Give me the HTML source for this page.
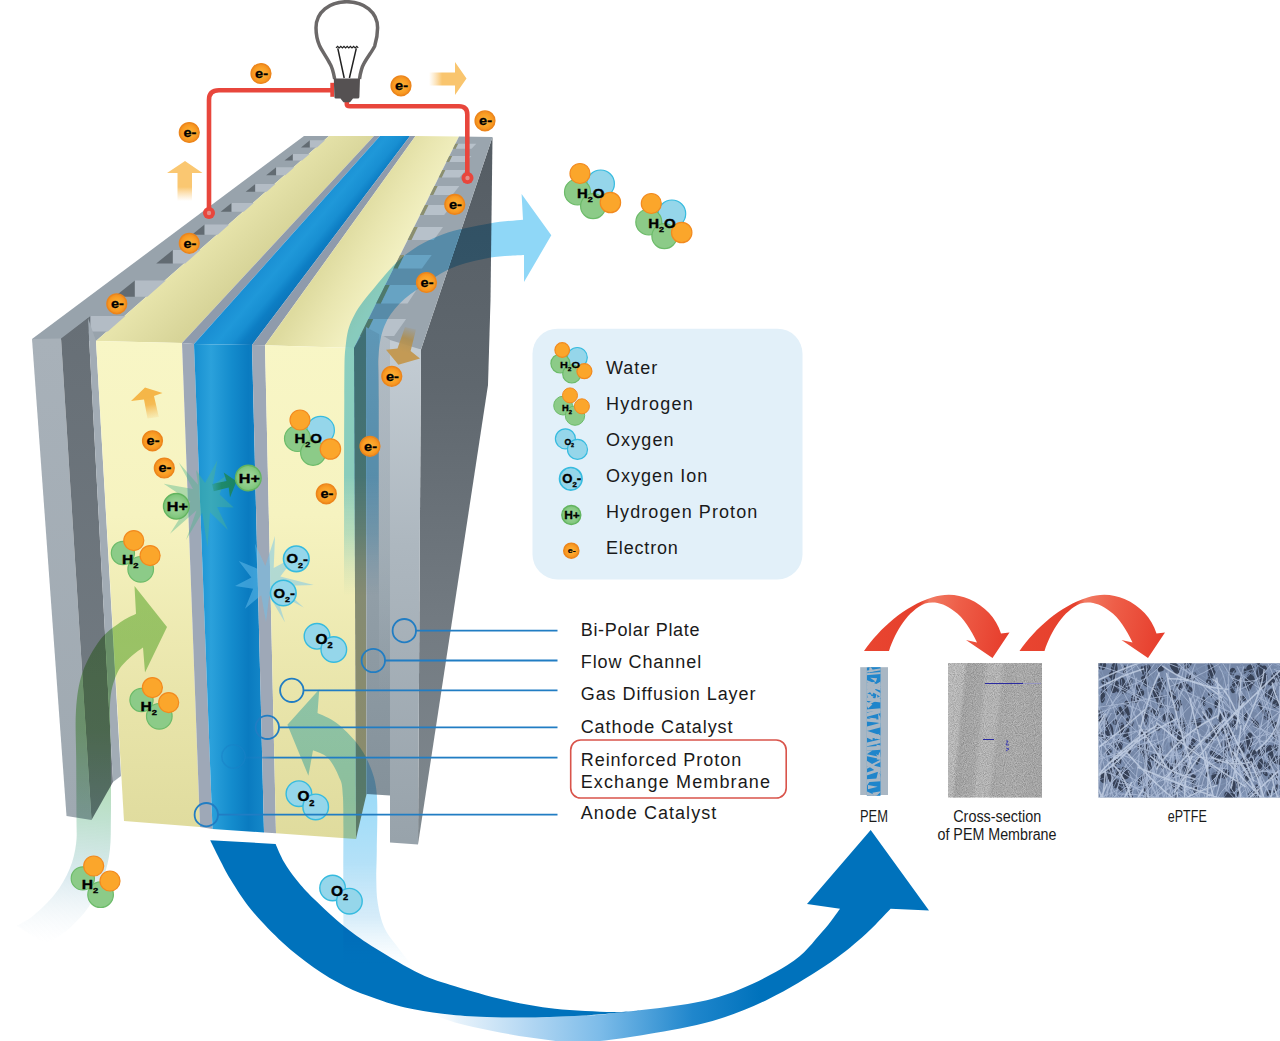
<!DOCTYPE html>
<html><head><meta charset="utf-8"><title>PEM fuel cell</title>
<style>
html,body{margin:0;padding:0;background:#fff;}
body{width:1280px;height:1041px;overflow:hidden;}
svg{display:block;font-family:"Liberation Sans",sans-serif;}
</style></head><body>
<svg width="1280" height="1041" viewBox="0 0 1280 1041">
<defs>
<linearGradient id="gYellowF" gradientUnits="userSpaceOnUse" x1="0" y1="340" x2="0" y2="840"><stop offset="0" stop-color="#f8f6c6"/><stop offset="0.35" stop-color="#f6f3c0"/><stop offset="0.7" stop-color="#e9e5ab"/><stop offset="1" stop-color="#dfdb9d"/></linearGradient>
<linearGradient id="gBlueF" gradientUnits="userSpaceOnUse" x1="194" y1="0" x2="262" y2="0"><stop offset="0" stop-color="#1790d1"/><stop offset="0.25" stop-color="#2ba1db"/><stop offset="0.55" stop-color="#148ccd"/><stop offset="0.8" stop-color="#0a7bc0"/><stop offset="1" stop-color="#1386c8"/></linearGradient>
<linearGradient id="gBlueT" gradientUnits="userSpaceOnUse" x1="251.2" y1="280" x2="280.9" y2="304.5"><stop offset="0" stop-color="#1a8fd3"/><stop offset="0.35" stop-color="#1f98d9"/><stop offset="0.65" stop-color="#188fd2"/><stop offset="0.85" stop-color="#0d7ec4"/><stop offset="1" stop-color="#0c78bd"/></linearGradient>
<linearGradient id="gLPf" gradientUnits="userSpaceOnUse" x1="0" y1="340" x2="0" y2="820"><stop offset="0" stop-color="#a8b1b9"/><stop offset="1" stop-color="#9fa9b1"/></linearGradient>
<linearGradient id="gLPd" gradientUnits="userSpaceOnUse" x1="0" y1="320" x2="0" y2="820"><stop offset="0" stop-color="#676f76"/><stop offset="1" stop-color="#747d84"/></linearGradient>
<linearGradient id="gSide" gradientUnits="userSpaceOnUse" x1="0" y1="140" x2="0" y2="840"><stop offset="0" stop-color="#555d64"/><stop offset="0.35" stop-color="#5f676e"/><stop offset="0.7" stop-color="#737b82"/><stop offset="1" stop-color="#80898f"/></linearGradient>
<linearGradient id="gYTopL" gradientUnits="userSpaceOnUse" x1="165" y1="280" x2="201.9" y2="318"><stop offset="0" stop-color="#e7e4ab"/><stop offset="0.5" stop-color="#dfdca2"/><stop offset="1" stop-color="#d7d498"/></linearGradient>
<linearGradient id="gYTopR" gradientUnits="userSpaceOnUse" x1="312.2" y1="280" x2="367.4" y2="313.5"><stop offset="0" stop-color="#dedb9f"/><stop offset="0.45" stop-color="#e9e6b0"/><stop offset="1" stop-color="#f3f1c3"/></linearGradient>
<linearGradient id="gRPf" gradientUnits="userSpaceOnUse" x1="0" y1="350" x2="0" y2="840"><stop offset="0" stop-color="#c3ccd3"/><stop offset="0.4" stop-color="#adb7bf"/><stop offset="1" stop-color="#98a3ab"/></linearGradient>
<linearGradient id="gRCh" gradientUnits="userSpaceOnUse" x1="0" y1="330" x2="0" y2="800"><stop offset="0" stop-color="#a9b3bc"/><stop offset="0.5" stop-color="#93a0a9"/><stop offset="1" stop-color="#84919a"/></linearGradient>
<linearGradient id="gOlive" gradientUnits="userSpaceOnUse" x1="0" y1="330" x2="0" y2="840"><stop offset="0" stop-color="#6f8379"/><stop offset="0.45" stop-color="#848b73"/><stop offset="1" stop-color="#8d8c6a"/></linearGradient>
<linearGradient id="gOv" gradientUnits="userSpaceOnUse" x1="0" y1="333" x2="0" y2="700"><stop offset="0" stop-color="#b9c3cb" stop-opacity="0.6"/><stop offset="0.6" stop-color="#b4bec6" stop-opacity="0.4"/><stop offset="1" stop-color="#b4bec6" stop-opacity="0"/></linearGradient>
<linearGradient id="gH2O" gradientUnits="userSpaceOnUse" x1="0" y1="190" x2="0" y2="610"><stop offset="0" stop-color="#8fd7f7" stop-opacity="1"/><stop offset="0.68" stop-color="#8fd7f7" stop-opacity="1"/><stop offset="0.82" stop-color="#97daf7" stop-opacity="0.6"/><stop offset="0.965" stop-color="#b5e4f8" stop-opacity="0"/><stop offset="1" stop-color="#b5e4f8" stop-opacity="0"/></linearGradient>
<linearGradient id="gO2in" gradientUnits="userSpaceOnUse" x1="0" y1="690" x2="0" y2="968"><stop offset="0" stop-color="#9bd9f8" stop-opacity="1"/><stop offset="0.4" stop-color="#9fdcf8" stop-opacity="1"/><stop offset="0.62" stop-color="#b4e1f8" stop-opacity="1"/><stop offset="0.82" stop-color="#cfe9f8" stop-opacity="0.85"/><stop offset="1" stop-color="#e6f5fd" stop-opacity="0"/></linearGradient>
<linearGradient id="gH2in" gradientUnits="userSpaceOnUse" x1="60" y1="600" x2="40" y2="960"><stop offset="0" stop-color="#a4d48f" stop-opacity="1"/><stop offset="0.35" stop-color="#a9d79a" stop-opacity="1"/><stop offset="0.6" stop-color="#bfe1cf" stop-opacity="1"/><stop offset="0.76" stop-color="#d3e6ec" stop-opacity="0.85"/><stop offset="0.95" stop-color="#eef4f9" stop-opacity="0"/><stop offset="1" stop-color="#eef4f9" stop-opacity="0"/></linearGradient>
<linearGradient id="gRib" gradientUnits="userSpaceOnUse" x1="425" y1="0" x2="760" y2="0"><stop offset="0" stop-color="#ffffff" stop-opacity="0"/><stop offset="0.1" stop-color="#e3f0fa" stop-opacity="0.9"/><stop offset="0.3" stop-color="#b5d8f3" stop-opacity="1"/><stop offset="0.52" stop-color="#7dbce9" stop-opacity="1"/><stop offset="0.8" stop-color="#1f86cc" stop-opacity="1"/><stop offset="1" stop-color="#0072bc" stop-opacity="1"/></linearGradient>
<linearGradient id="gOrR" gradientUnits="userSpaceOnUse" x1="429" y1="0" x2="442" y2="0"><stop offset="0" stop-color="#fbd28d" stop-opacity="0"/><stop offset="1" stop-color="#f9c56e" stop-opacity="1"/></linearGradient>
<linearGradient id="gOrU" gradientUnits="userSpaceOnUse" x1="0" y1="201" x2="0" y2="187"><stop offset="0" stop-color="#fbd28d" stop-opacity="0"/><stop offset="1" stop-color="#fac771" stop-opacity="1"/></linearGradient>
<linearGradient id="gOrG" gradientUnits="userSpaceOnUse" x1="153" y1="421" x2="148" y2="398"><stop offset="0" stop-color="#f6c56e" stop-opacity="0"/><stop offset="0.7" stop-color="#f5b94f" stop-opacity="0.95"/><stop offset="1" stop-color="#f5b648" stop-opacity="1"/></linearGradient>
<linearGradient id="gBrn" gradientUnits="userSpaceOnUse" x1="412" y1="326" x2="404" y2="352"><stop offset="0" stop-color="#a98b50" stop-opacity="0"/><stop offset="0.5" stop-color="#b08d4a" stop-opacity="0.85"/><stop offset="1" stop-color="#c39a55" stop-opacity="1"/></linearGradient>
<linearGradient id="gHp" gradientUnits="userSpaceOnUse" x1="211" y1="0" x2="232" y2="0"><stop offset="0" stop-color="#1f8a6a" stop-opacity="0.2"/><stop offset="0.5" stop-color="#1f8a6a" stop-opacity="1"/><stop offset="1" stop-color="#1a8566" stop-opacity="1"/></linearGradient>
<radialGradient id="gHpr" cx="0.5" cy="0.5" r="0.5"><stop offset="0" stop-color="#a3daa0"/><stop offset="0.65" stop-color="#8ccc88"/><stop offset="1" stop-color="#79c376"/></radialGradient>
<radialGradient id="gE" cx="0.5" cy="0.5" r="0.5"><stop offset="0" stop-color="#fdb43e"/><stop offset="0.65" stop-color="#fa9f25"/><stop offset="1" stop-color="#f28d1d"/></radialGradient>
<linearGradient id="gPemLine" gradientUnits="userSpaceOnUse" x1="245" y1="0" x2="275" y2="0"><stop offset="0" stop-color="#217dc3" stop-opacity="0.15"/><stop offset="1" stop-color="#217dc3" stop-opacity="1"/></linearGradient>
<linearGradient id="gRed1" gradientUnits="userSpaceOnUse" x1="864" y1="610" x2="1009" y2="640"><stop offset="0" stop-color="#ea4631"/><stop offset="0.36" stop-color="#e5402d"/><stop offset="0.42" stop-color="#f17a62"/><stop offset="0.62" stop-color="#ee5e48"/><stop offset="1" stop-color="#e63c2b"/></linearGradient>
<linearGradient id="gRed2" gradientUnits="userSpaceOnUse" x1="1019.5" y1="610" x2="1164.5" y2="640"><stop offset="0" stop-color="#ea4631"/><stop offset="0.36" stop-color="#e5402d"/><stop offset="0.42" stop-color="#f17a62"/><stop offset="0.62" stop-color="#ee5e48"/><stop offset="1" stop-color="#e63c2b"/></linearGradient>
<clipPath id="cpPem"><rect x="866.9" y="667.2" width="13.6" height="128.6"/></clipPath>
<linearGradient id="gXs" gradientUnits="userSpaceOnUse" x1="950" y1="663" x2="1040" y2="672"><stop offset="0" stop-color="#bfbfbf"/><stop offset="0.16" stop-color="#bcbcbc"/><stop offset="0.2" stop-color="#a6a6a6"/><stop offset="0.38" stop-color="#ababab"/><stop offset="0.43" stop-color="#b8b8b8"/><stop offset="0.56" stop-color="#b9b9b9"/><stop offset="0.61" stop-color="#ababab"/><stop offset="0.8" stop-color="#adadad"/><stop offset="1" stop-color="#a9a9a9"/></linearGradient>
<filter id="fNoise" x="0" y="0" width="100%" height="100%" color-interpolation-filters="sRGB"><feTurbulence type="fractalNoise" baseFrequency="1.1" numOctaves="1" seed="3" result="n"/><feColorMatrix type="matrix" values="0 0 0 0 0  0 0 0 0 0  0 0 0 0 0  1.6 0 0 0 -0.55"/></filter>
<filter id="fNoiseW" x="0" y="0" width="100%" height="100%" color-interpolation-filters="sRGB"><feTurbulence type="fractalNoise" baseFrequency="1.1" numOctaves="1" seed="11" result="n"/><feColorMatrix type="matrix" values="0 0 0 0 1  0 0 0 0 1  0 0 0 0 1  1.6 0 0 0 -0.55"/></filter>
<clipPath id="cpE"><rect x="1098.5" y="663.3" width="182" height="134.2"/></clipPath>
<filter id="fBlur" x="-5%" y="-5%" width="110%" height="110%"><feGaussianBlur stdDeviation="0.45"/></filter>
</defs>
<rect width="1280" height="1041" fill="#ffffff"/>
<g style="isolation:isolate">
<rect width="1280" height="1041" fill="#ffffff"/>
<!-- ribbon -->
<path d="M425.0,1011.0 C427.9,1011.5 433.3,1012.8 442.5,1013.7 C451.7,1014.7 465.4,1016.1 480.0,1016.7 C494.6,1017.3 513.3,1017.7 530.0,1017.5 C546.7,1017.3 566.2,1016.4 580.0,1015.7 C593.8,1015.0 590.4,1016.0 612.5,1013.2 C634.6,1010.4 683.3,1006.7 712.5,998.7 C741.7,990.7 769.2,976.1 787.5,965.0 C805.8,953.9 813.2,941.4 822.0,932.0 C830.8,922.6 837.0,912.6 840.0,908.7 L807.0,904.0 L870.7,830.0 L929.0,910.6 L890.6,908.7 C885.9,913.4 873.4,927.5 862.5,937.0 C851.6,946.5 840.6,955.7 825.0,966.0 C809.4,976.3 787.5,989.8 768.7,999.0 C750.0,1008.2 732.5,1015.2 712.5,1021.0 C692.5,1026.8 667.5,1030.7 648.7,1034.0 C630.0,1037.3 613.5,1039.7 600.0,1041.0 C586.5,1042.3 579.2,1042.6 567.5,1042.0 C555.8,1041.4 542.5,1039.3 530.0,1037.5 C517.5,1035.7 505.0,1033.5 492.5,1031.0 C480.0,1028.5 466.2,1025.8 455.0,1022.5 C443.8,1019.2 430.0,1012.9 425.0,1011.0 Z" fill="url(#gRib)" />
<path d="M210.2,840.2 C212.0,843.8 217.6,855.4 221.0,862.0 C224.4,868.6 225.9,872.0 230.9,880.0 C235.9,888.0 242.6,899.3 251.2,909.7 C259.8,920.1 272.1,932.9 282.5,942.5 C292.9,952.1 303.3,960.2 313.7,967.5 C324.1,974.8 334.6,981.0 345.0,986.2 C355.4,991.4 366.2,995.2 376.2,998.7 C386.2,1002.2 393.9,1005.0 405.0,1007.5 C416.1,1010.0 430.0,1012.2 442.5,1013.7 C455.0,1015.2 465.4,1016.1 480.0,1016.7 C494.6,1017.3 513.3,1017.7 530.0,1017.5 C546.7,1017.3 566.2,1016.4 580.0,1015.7 C593.8,1015.0 602.5,1014.0 612.5,1013.2 C622.5,1012.4 635.4,1011.2 640.0,1010.8 C635.4,1011.0 626.7,1012.4 612.5,1012.0 C598.3,1011.6 572.9,1010.7 555.0,1008.7 C537.1,1006.7 521.7,1003.8 505.0,1000.0 C488.3,996.2 469.2,990.6 455.0,986.2 C440.8,981.8 433.1,980.0 420.0,973.7 C406.9,967.5 388.7,956.5 376.2,948.7 C363.7,940.9 355.4,935.2 345.0,926.9 C334.6,918.6 321.8,906.5 313.7,898.7 C305.6,890.9 301.6,886.1 296.6,880.0 C291.7,873.9 287.5,868.0 284.0,862.0 C280.5,856.0 277.0,847.0 275.6,844.0 Z" fill="#0072bc" />
<!-- cell -->
<polygon points="421.0,349.5 492.5,137.0 490.5,300.0 488.0,385.0 418.0,844.5" fill="url(#gSide)" />
<polygon points="32.0,339.0 304.0,136.0 329.0,136.0 96.0,341.0" fill="#98a3ac" />
<polygon points="96.0,341.0 329.0,136.0 374.0,136.0 182.0,343.0" fill="url(#gYTopL)" />
<polygon points="182.0,343.0 374.0,136.0 380.0,136.0 194.0,344.0" fill="#8f9bac" />
<polygon points="194.0,344.0 380.0,136.0 410.0,136.0 252.0,345.0" fill="url(#gBlueT)" />
<polygon points="252.0,345.0 410.0,136.0 415.5,136.0 265.0,345.3" fill="#8f9bac" />
<polygon points="265.0,345.3 415.5,136.0 459.0,136.5 354.0,348.0" fill="url(#gYTopR)" />
<polygon points="354.0,348.0 459.0,136.5 492.5,137.0 421.0,349.5" fill="#9aa5ae" />
<polygon points="301.0,147.4 309.9,140.3 309.9,147.4" fill="#626b72" />
<polygon points="309.9,140.3 325.1,140.3 317.0,147.4 309.9,147.4" fill="#b3bcc5" />
<polygon points="284.5,160.6 292.9,153.9 292.9,160.6" fill="#626b72" />
<polygon points="292.9,153.9 309.7,153.9 302.0,160.6 292.9,160.6" fill="#b3bcc5" />
<polygon points="266.2,175.3 276.2,167.3 276.2,175.3" fill="#626b72" />
<polygon points="276.2,167.3 294.4,167.3 285.3,175.3 276.2,175.3" fill="#b3bcc5" />
<polygon points="245.7,191.7 255.3,184.0 255.3,191.7" fill="#626b72" />
<polygon points="255.3,184.0 275.4,184.0 266.7,191.7 255.3,191.7" fill="#b3bcc5" />
<polygon points="220.6,211.8 231.6,203.0 231.6,211.8" fill="#626b72" />
<polygon points="231.6,203.0 253.8,203.0 243.8,211.8 231.6,211.8" fill="#b3bcc5" />
<polygon points="191.9,234.8 204.6,224.6 204.6,234.8" fill="#626b72" />
<polygon points="204.6,224.6 229.3,224.6 217.7,234.8 204.6,234.8" fill="#b3bcc5" />
<polygon points="156.2,263.4 172.9,250.0 172.9,263.4" fill="#626b72" />
<polygon points="172.9,250.0 200.4,250.0 185.2,263.4 172.9,263.4" fill="#b3bcc5" />
<polygon points="114.6,296.7 134.9,280.5 134.9,296.7" fill="#626b72" />
<polygon points="134.9,280.5 165.8,280.5 147.4,296.7 134.9,296.7" fill="#b3bcc5" />
<polygon points="71.2,331.5 90.5,316.0 90.5,331.5" fill="#626b72" />
<polygon points="90.5,316.0 125.4,316.0 107.8,331.5 90.5,331.5" fill="#b3bcc5" />
<polygon points="455.4,143.7 458.2,143.7 455.8,148.7 452.9,148.7" fill="#8b8f6e" />
<polygon points="458.2,143.7 476.3,143.7 471.5,148.7 455.8,148.7" fill="#b7c1ca" />
<polygon points="449.3,156.0 452.3,156.0 449.4,162.0 446.3,162.0" fill="#8b8f6e" />
<polygon points="452.3,156.0 471.4,156.0 466.0,162.0 449.4,162.0" fill="#b7c1ca" />
<polygon points="442.4,170.0 445.5,170.0 441.9,177.4 438.7,177.4" fill="#8b8f6e" />
<polygon points="445.5,170.0 465.8,170.0 459.6,177.4 441.9,177.4" fill="#b7c1ca" />
<polygon points="434.4,186.0 437.8,186.0 433.4,195.0 430.0,195.0" fill="#8b8f6e" />
<polygon points="437.8,186.0 459.4,186.0 452.3,195.0 433.4,195.0" fill="#b7c1ca" />
<polygon points="425.0,205.0 428.6,205.0 423.7,215.0 420.0,215.0" fill="#8b8f6e" />
<polygon points="428.6,205.0 451.8,205.0 444.1,215.0 423.7,215.0" fill="#b7c1ca" />
<polygon points="414.1,227.0 417.9,227.0 411.6,240.0 407.6,240.0" fill="#8b8f6e" />
<polygon points="417.9,227.0 443.0,227.0 433.7,240.0 411.6,240.0" fill="#b7c1ca" />
<polygon points="400.2,255.0 404.4,255.0 397.8,268.6 393.4,268.6" fill="#8b8f6e" />
<polygon points="404.4,255.0 431.7,255.0 421.9,268.6 397.8,268.6" fill="#b7c1ca" />
<polygon points="385.3,285.0 389.9,285.0 380.9,303.5 376.1,303.5" fill="#8b8f6e" />
<polygon points="389.9,285.0 419.7,285.0 407.5,303.5 380.9,303.5" fill="#b7c1ca" />
<polygon points="368.4,319.0 373.4,319.0 365.2,336.0 360.0,336.0" fill="#8b8f6e" />
<polygon points="373.4,319.0 406.1,319.0 394.1,336.0 365.2,336.0" fill="#b7c1ca" />
<polygon points="32.0,339.0 61.0,338.5 91.5,820.0 66.5,816.0" fill="url(#gLPf)" />
<polygon points="61.0,338.5 88.0,318.0 113.0,782.0 91.5,820.0" fill="url(#gLPd)" />
<polygon points="88.0,318.0 96.0,341.0 121.0,776.0 113.0,782.0" fill="#a2acb5" />
<polygon points="96.0,341.0 182.0,343.0 200.0,827.0 124.0,821.0" fill="url(#gYellowF)" />
<polygon points="182.0,343.0 194.0,344.0 212.5,829.0 200.0,827.0" fill="#9ea8b7" />
<polygon points="194.0,344.0 252.0,345.0 264.0,832.5 212.5,829.0" fill="url(#gBlueF)" />
<polygon points="252.0,345.0 265.0,345.3 276.0,833.3 264.0,832.5" fill="#9ea8b7" />
<polygon points="265.0,345.3 354.0,348.0 356.0,839.0 276.0,833.3" fill="url(#gYellowF)" />
<polygon points="354.0,348.0 366.0,327.0 366.5,794.0 356.0,839.0" fill="url(#gOlive)" />
<polygon points="366.0,327.0 390.0,340.0 390.0,795.5 366.5,794.0" fill="url(#gRCh)" />
<polygon points="390.0,340.0 421.0,349.5 418.0,844.5 390.0,842.5" fill="url(#gRPf)" />
<polygon points="379.0,333.0 390.0,340.0 390.0,795.5 379.0,795.0" fill="url(#gOv)" />
<!-- arrows -->
<path d="M344.0,612.0 C344.1,576.7 344.0,444.8 344.3,400.0 C344.6,355.2 344.3,357.2 346.0,343.0 C347.7,328.8 349.6,324.3 354.4,315.0 C359.2,305.7 366.6,297.0 375.0,287.0 C383.4,277.0 393.8,263.8 405.0,255.0 C416.2,246.2 428.4,239.7 442.5,234.4 C456.6,229.2 476.0,225.9 489.4,223.5 C502.8,221.1 517.4,220.3 523.0,219.7 L521.6,194.0 L551.3,235.3 L524.0,282.0 L524.0,255.0 C518.2,255.5 501.4,255.6 489.4,257.8 C477.4,260.0 462.8,263.5 451.9,268.0 C440.9,272.5 432.4,279.1 423.7,285.0 C414.9,290.9 405.9,296.9 399.4,303.7 C392.8,310.5 387.9,317.3 384.4,326.0 C380.9,334.7 379.4,343.7 378.5,356.0 C377.6,368.3 378.7,357.3 378.7,400.0 C378.7,442.7 378.7,576.7 378.7,612.0 Z" fill="url(#gH2O)" style="mix-blend-mode:multiply"/>
<path d="M317.5,713 L319.3,689.2 L287.4,724.7 L308.4,775.8 L313.0,750.3 C315.4,751.5 323.2,753.4 327.5,757.6 C331.8,761.9 335.9,769.1 338.5,775.8 C341.1,782.5 342.2,780.3 343.0,797.7 C343.8,815.1 343.2,851.6 343.3,880.0 C343.4,908.4 343.5,953.3 343.5,968.0 L414,968 C411.1,964.3 401.5,952.5 396.5,945.6 C391.5,938.8 387.1,933.9 384.0,926.9 C380.9,919.9 379.1,911.2 377.8,903.4 C376.5,895.6 376.5,888.9 376.3,880.0 C376.1,871.1 376.7,864.3 376.8,850.0 C376.9,835.7 378.0,808.2 376.8,794.0 C375.6,779.8 372.9,773.5 369.5,765.0 C366.1,756.5 362.2,750.0 356.7,743.0 C351.2,736.0 343.1,728.0 336.6,723.0 C330.1,718.0 320.7,714.7 317.5,713.0 Z" fill="url(#gO2in)" style="mix-blend-mode:multiply"/>
<path d="M16.9,925.8 C19.7,924.0 27.5,920.5 33.8,915.2 C40.1,909.9 48.9,901.9 54.9,894.1 C60.9,886.4 66.2,877.2 69.7,868.7 C73.2,860.2 75.0,852.0 76.1,843.4 C77.2,834.8 76.5,830.9 76.5,817.0 C76.5,803.1 76.3,777.8 76.2,760.0 C76.1,742.2 75.0,724.6 76.0,710.0 C77.0,695.4 78.5,684.2 82.5,672.5 C86.5,660.8 93.8,648.3 100.0,640.0 C106.2,631.7 114.0,626.9 120.0,622.5 C126.0,618.1 133.3,615.2 136.0,613.7 L134.5,586.0 L167.0,627.0 L145.0,672.5 L143.0,647.5 C140.8,649.2 134.2,653.3 130.0,657.5 C125.8,661.7 120.8,665.4 117.5,672.5 C114.2,679.6 111.4,687.1 110.3,700.0 C109.2,712.9 110.6,735.0 110.7,750.0 C110.8,765.0 111.0,778.7 111.0,790.0 C111.0,801.3 111.1,808.0 110.9,818.0 C110.7,828.0 111.1,839.8 109.9,849.7 C108.7,859.6 107.0,867.7 103.5,877.2 C100.0,886.7 94.3,898.3 88.7,906.8 C83.1,915.2 76.7,921.6 69.7,927.9 C62.7,934.2 50.4,942.0 46.5,944.8 Z" fill="url(#gH2in)" style="mix-blend-mode:multiply"/>
</g>
<!-- starbursts -->
<polygon points="163.7,483.7 192.9,489.1 178.7,462.5 198.1,484.7 196.0,470.0 205.1,483.0 217.5,460.0 212.7,485.1 226.0,476.0 219.6,494.4 233.7,507.5 217.1,506.9 228.0,530.0 210.0,512.2 207.5,547.5 202.2,512.7 186.0,540.0 196.5,510.4 170.0,533.7 190.4,501.4" fill="#4fb58c" opacity="0.42"/>
<polygon points="238.7,561.0 257.4,568.7 255.0,543.7 265.3,566.0 275.0,536.0 273.7,568.1 296.0,556.0 280.3,576.5 313.7,585.0 280.1,586.1 303.7,607.5 275.6,592.5 285.0,622.5 269.2,595.7 266.0,622.0 261.2,595.2 245.0,608.7 253.1,588.7 235.0,586.0 251.4,577.5" fill="#6cc3ee" opacity="0.48"/>
<path d="M212,484 L226.5,481 L223.7,472.5 L236.5,481.3 L230,497.5 L228.7,487.5 L213.7,491.3 Z" fill="url(#gHp)" />
<!-- small arrows -->
<path d="M428,72.5 L455,72.5 L455,62 L466.5,78.5 L455,95 L455,85.5 L428,85.5 Z" fill="url(#gOrR)" />
<path d="M177.5,201 L177.5,173 L167,173 L185,161 L202.5,173 L192,173 L192,201 Z" fill="url(#gOrU)" />
<path d="M147.5,418.5 L144,399.5 L131,401 L145,387.5 L162.5,393 L154,396 L158.8,417 Z" fill="url(#gOrG)" />
<path d="M405,327 L416,329.5 L410.6,351 L420,358.5 L398.4,364.7 L386,349.7 L397.5,348.5 Z" fill="url(#gBrn)" />
<!-- wires -->
<path d="M209,208 L209,100 Q209,90.3 219,90.3 L331,90.3" fill="none" stroke="#e8463c" stroke-width="4.6" stroke-linecap="butt"/>
<rect x="330.3" y="82.8" width="3.8" height="14" fill="#e8463c"/>
<path d="M346.8,100 L346.8,104 Q346.8,106.3 350,106.3 L459,106.3 Q467.3,106.3 467.3,114.5 L467.3,173" fill="none" stroke="#e8463c" stroke-width="4.6"/>
<circle cx="209" cy="213" r="6" fill="#e8463c"/><circle cx="209" cy="213" r="2.2" fill="#e48f89"/>
<circle cx="467.5" cy="178" r="6" fill="#e8463c"/><circle cx="467.5" cy="178" r="2.2" fill="#e48f89"/>
<path d="M334.7,79 C333,70 331.5,66 329.8,63.4 C326,56 322,51 319.7,46.1 C317,40 316,34 316,27.7 C316,12 329.5,1.7 346.8,1.7 C364,1.7 377.6,12 377.6,27.7 C377.6,34 376.5,40 374.7,46.1 C372.5,51 368,56 364,63.4 C362.5,66 360.8,70 359.5,79" fill="#ffffff" stroke="#6b6868" stroke-width="3.5"/>
<path d="M336,47.9 l1.6,-1.5 l1.6,1.5 l1.6,-1.5 l1.6,1.5 l1.6,-1.5 l1.6,1.5 l1.6,-1.5 l1.6,1.5 l1.6,-1.5 l1.6,1.5 l1.6,-1.5 l1.6,1.5 l1.6,-1.5 l1.4,1.5" fill="none" stroke="#222" stroke-width="1.2"/>
<path d="M337.8,48.4 L344.2,78 M356.3,48.4 L349.4,78" fill="none" stroke="#222" stroke-width="1.5"/>
<path d="M333.8,78.4 L360,78.4 L359.4,97 Q359.4,98.5 357.5,98.5 L353,98.5 L350,102.3 L343.4,102.3 L340.5,98.5 L336,98.5 Q334.4,98.5 334.4,97 Z" fill="#555152" />
<!-- legend / labels -->
<rect x="532.5" y="328.7" width="270" height="250.7" rx="25" ry="25" fill="#e2f0f9"/>
<circle cx="577.3" cy="357.5" r="10.0" fill="#95d6ea" stroke="#36bbdf" stroke-width="1.2"/>
<circle cx="560.4" cy="363.5" r="9.5" fill="#8ccb88" stroke="#6cbb69" stroke-width="1.2"/>
<circle cx="571.8" cy="373.9" r="9.1" fill="#8ccb88" stroke="#6cbb69" stroke-width="1.2"/>
<circle cx="562.2" cy="350.0" r="7.3" fill="#fba62b" stroke="#f28a1f" stroke-width="1.2"/>
<circle cx="584.4" cy="371.2" r="7.5" fill="#fba62b" stroke="#f28a1f" stroke-width="1.2"/>
<text transform="translate(560.0 368.0) scale(1.170 1)" font-size="9.3" font-weight="bold" fill="#000" stroke="#000" stroke-width="0.26">H<tspan font-size="5.6" dy="2.8">2</tspan><tspan font-size="9.3" dy="-2.8">O</tspan></text>
<circle cx="563.1" cy="405.6" r="9.4" fill="#8ccb88" stroke="#6cbb69" stroke-width="1"/>
<circle cx="575.0" cy="415.6" r="9.7" fill="#8ccb88" stroke="#6cbb69" stroke-width="1"/>
<circle cx="570.0" cy="395.4" r="7.5" fill="#fba62b" stroke="#f28a1f" stroke-width="1"/>
<circle cx="581.9" cy="406.3" r="7.5" fill="#fba62b" stroke="#f28a1f" stroke-width="1"/>
<text x="562" y="411.3" font-size="9.3" font-weight="bold" fill="#000" stroke="#000" stroke-width="0.35">H<tspan font-size="5.8" dy="2.6">2</tspan></text>
<circle cx="565.4" cy="438.8" r="10.0" fill="#95d6ea" stroke="#36bbdf" stroke-width="1.2"/>
<circle cx="577.5" cy="449.4" r="10.0" fill="#95d6ea" stroke="#36bbdf" stroke-width="1.2"/>
<text x="564.4" y="444.7" font-size="8.6" font-weight="bold" fill="#000" stroke="#000" stroke-width="0.35">O<tspan font-size="5.4" dy="2.4">2</tspan></text>
<circle cx="570.8" cy="478.8" r="11.3" fill="#95d6ea" stroke="#36bbdf" stroke-width="1.6"/>
<text transform="translate(562.2 482.8) scale(1.100 1)" font-size="11.9" font-weight="bold" fill="#000" stroke="#000" stroke-width="0.35">O<tspan font-size="7.1" dy="3.8">2</tspan><tspan font-size="11.9" dy="-3.6">-</tspan></text>
<circle cx="571.3" cy="515.0" r="9.5" fill="url(#gHpr)" stroke="#62b45f" stroke-width="1.4"/>
<text transform="translate(564.2 518.6) scale(1.200 1)" font-size="10.0" font-weight="bold" fill="#000" stroke="#000" stroke-width="0.26">H+</text>
<circle cx="571.3" cy="550.7" r="7.6" fill="url(#gE)" stroke="#ec851b" stroke-width="1.4"/>
<text transform="translate(567.7 553.3) scale(1.100 1)" font-size="8.1" font-weight="bold" fill="#000" stroke="#000" stroke-width="0.23">e-</text>
<text x="606.0" y="374.3" font-size="18.0" fill="#1a1a1a" textLength="51.3" lengthAdjust="spacing">Water</text>
<text x="606.0" y="410.3" font-size="18.0" fill="#1a1a1a" textLength="86.8" lengthAdjust="spacing">Hydrogen</text>
<text x="606.0" y="446.3" font-size="18.0" fill="#1a1a1a" textLength="67.5" lengthAdjust="spacing">Oxygen</text>
<text x="606.0" y="482.3" font-size="18.0" fill="#1a1a1a" textLength="101.3" lengthAdjust="spacing">Oxygen Ion</text>
<text x="606.0" y="518.3" font-size="18.0" fill="#1a1a1a" textLength="151.3" lengthAdjust="spacing">Hydrogen Proton</text>
<text x="606.0" y="554.3" font-size="18.0" fill="#1a1a1a" textLength="71.8" lengthAdjust="spacing">Electron</text>
<text x="580.7" y="636.3" font-size="18.0" fill="#1a1a1a" textLength="118.8" lengthAdjust="spacing">Bi-Polar Plate</text>
<text x="580.7" y="668.3" font-size="18.0" fill="#1a1a1a" textLength="120.5" lengthAdjust="spacing">Flow Channel</text>
<text x="580.7" y="700.0" font-size="18.0" fill="#1a1a1a" textLength="174.8" lengthAdjust="spacing">Gas Diffusion Layer</text>
<text x="580.7" y="733.0" font-size="18.0" fill="#1a1a1a" textLength="151.8" lengthAdjust="spacing">Cathode Catalyst</text>
<text x="580.7" y="766.3" font-size="18.0" fill="#1a1a1a" textLength="160.5" lengthAdjust="spacing">Reinforced Proton</text>
<text x="580.7" y="787.5" font-size="18.0" fill="#1a1a1a" textLength="189.3" lengthAdjust="spacing">Exchange Membrane</text>
<text x="580.7" y="819.3" font-size="18.0" fill="#1a1a1a" textLength="135.5" lengthAdjust="spacing">Anode Catalyst</text>
<rect x="570.7" y="740" width="215.5" height="58" rx="10" ry="10" fill="none" stroke="#d9544b" stroke-width="1.6"/>
<!-- molecules -->
<circle cx="261.0" cy="73.5" r="9.9" fill="url(#gE)" stroke="#ec851b" stroke-width="1.4"/>
<text transform="translate(255.1 77.7) scale(1.100 1)" font-size="13.2" font-weight="bold" fill="#000" stroke="#000" stroke-width="0.30">e-</text>
<circle cx="189.3" cy="132.5" r="9.9" fill="url(#gE)" stroke="#ec851b" stroke-width="1.4"/>
<text transform="translate(183.4 136.7) scale(1.100 1)" font-size="13.2" font-weight="bold" fill="#000" stroke="#000" stroke-width="0.30">e-</text>
<circle cx="189.3" cy="243.3" r="9.9" fill="url(#gE)" stroke="#ec851b" stroke-width="1.4"/>
<text transform="translate(183.4 247.5) scale(1.100 1)" font-size="13.2" font-weight="bold" fill="#000" stroke="#000" stroke-width="0.30">e-</text>
<circle cx="116.8" cy="303.8" r="9.9" fill="url(#gE)" stroke="#ec851b" stroke-width="1.4"/>
<text transform="translate(110.9 308.0) scale(1.100 1)" font-size="13.2" font-weight="bold" fill="#000" stroke="#000" stroke-width="0.30">e-</text>
<circle cx="401.0" cy="85.8" r="9.9" fill="url(#gE)" stroke="#ec851b" stroke-width="1.4"/>
<text transform="translate(395.1 90.0) scale(1.100 1)" font-size="13.2" font-weight="bold" fill="#000" stroke="#000" stroke-width="0.30">e-</text>
<circle cx="485.0" cy="120.8" r="9.9" fill="url(#gE)" stroke="#ec851b" stroke-width="1.4"/>
<text transform="translate(479.1 125.0) scale(1.100 1)" font-size="13.2" font-weight="bold" fill="#000" stroke="#000" stroke-width="0.30">e-</text>
<circle cx="454.8" cy="204.4" r="9.9" fill="url(#gE)" stroke="#ec851b" stroke-width="1.4"/>
<text transform="translate(448.9 208.6) scale(1.100 1)" font-size="13.2" font-weight="bold" fill="#000" stroke="#000" stroke-width="0.30">e-</text>
<circle cx="426.5" cy="282.5" r="9.9" fill="url(#gE)" stroke="#ec851b" stroke-width="1.4"/>
<text transform="translate(420.6 286.7) scale(1.100 1)" font-size="13.2" font-weight="bold" fill="#000" stroke="#000" stroke-width="0.30">e-</text>
<circle cx="391.8" cy="376.3" r="9.9" fill="url(#gE)" stroke="#ec851b" stroke-width="1.4"/>
<text transform="translate(385.9 380.5) scale(1.100 1)" font-size="13.2" font-weight="bold" fill="#000" stroke="#000" stroke-width="0.30">e-</text>
<circle cx="152.5" cy="440.8" r="9.9" fill="url(#gE)" stroke="#ec851b" stroke-width="1.4"/>
<text transform="translate(146.6 445.0) scale(1.100 1)" font-size="13.2" font-weight="bold" fill="#000" stroke="#000" stroke-width="0.30">e-</text>
<circle cx="164.3" cy="468.0" r="9.9" fill="url(#gE)" stroke="#ec851b" stroke-width="1.4"/>
<text transform="translate(158.4 472.2) scale(1.100 1)" font-size="13.2" font-weight="bold" fill="#000" stroke="#000" stroke-width="0.30">e-</text>
<circle cx="370.0" cy="446.3" r="9.9" fill="url(#gE)" stroke="#ec851b" stroke-width="1.4"/>
<text transform="translate(364.1 450.5) scale(1.100 1)" font-size="13.2" font-weight="bold" fill="#000" stroke="#000" stroke-width="0.30">e-</text>
<circle cx="326.3" cy="493.8" r="9.9" fill="url(#gE)" stroke="#ec851b" stroke-width="1.4"/>
<text transform="translate(320.4 498.0) scale(1.100 1)" font-size="13.2" font-weight="bold" fill="#000" stroke="#000" stroke-width="0.30">e-</text>
<circle cx="176.3" cy="506.3" r="12.8" fill="url(#gHpr)" stroke="#62b45f" stroke-width="1.4"/>
<text transform="translate(166.7 511.1) scale(1.200 1)" font-size="13.5" font-weight="bold" fill="#000" stroke="#000" stroke-width="0.35">H+</text>
<circle cx="248.3" cy="478.0" r="12.8" fill="url(#gHpr)" stroke="#62b45f" stroke-width="1.4"/>
<text transform="translate(238.7 482.8) scale(1.200 1)" font-size="13.5" font-weight="bold" fill="#000" stroke="#000" stroke-width="0.35">H+</text>
<circle cx="600.6" cy="183.8" r="13.8" fill="#95d6ea" stroke="#36bbdf" stroke-width="1.2"/>
<circle cx="577.5" cy="192.0" r="13.0" fill="#8ccb88" stroke="#6cbb69" stroke-width="1.2"/>
<circle cx="593.1" cy="206.2" r="12.5" fill="#8ccb88" stroke="#6cbb69" stroke-width="1.2"/>
<circle cx="580.0" cy="173.5" r="10.0" fill="#fba62b" stroke="#f28a1f" stroke-width="1.2"/>
<circle cx="610.4" cy="202.5" r="10.2" fill="#fba62b" stroke="#f28a1f" stroke-width="1.2"/>
<text transform="translate(576.9 198.1) scale(1.170 1)" font-size="12.8" font-weight="bold" fill="#000" stroke="#000" stroke-width="0.35">H<tspan font-size="7.7" dy="3.8">2</tspan><tspan font-size="12.8" dy="-3.8">O</tspan></text>
<circle cx="671.9" cy="213.8" r="13.8" fill="#95d6ea" stroke="#36bbdf" stroke-width="1.2"/>
<circle cx="648.8" cy="222.0" r="13.0" fill="#8ccb88" stroke="#6cbb69" stroke-width="1.2"/>
<circle cx="664.4" cy="236.2" r="12.5" fill="#8ccb88" stroke="#6cbb69" stroke-width="1.2"/>
<circle cx="651.3" cy="203.5" r="10.0" fill="#fba62b" stroke="#f28a1f" stroke-width="1.2"/>
<circle cx="681.7" cy="232.5" r="10.2" fill="#fba62b" stroke="#f28a1f" stroke-width="1.2"/>
<text transform="translate(648.2 228.1) scale(1.170 1)" font-size="12.8" font-weight="bold" fill="#000" stroke="#000" stroke-width="0.35">H<tspan font-size="7.7" dy="3.8">2</tspan><tspan font-size="12.8" dy="-3.8">O</tspan></text>
<circle cx="320.6" cy="430.2" r="13.8" fill="#95d6ea" stroke="#36bbdf" stroke-width="1.2"/>
<circle cx="297.5" cy="438.5" r="13.0" fill="#8ccb88" stroke="#6cbb69" stroke-width="1.2"/>
<circle cx="313.1" cy="452.8" r="12.5" fill="#8ccb88" stroke="#6cbb69" stroke-width="1.2"/>
<circle cx="300.0" cy="420.0" r="10.0" fill="#fba62b" stroke="#f28a1f" stroke-width="1.2"/>
<circle cx="330.4" cy="449.0" r="10.2" fill="#fba62b" stroke="#f28a1f" stroke-width="1.2"/>
<text transform="translate(294.4 442.7) scale(1.170 1)" font-size="12.8" font-weight="bold" fill="#000" stroke="#000" stroke-width="0.35">H<tspan font-size="7.7" dy="3.8">2</tspan><tspan font-size="12.8" dy="-3.8">O</tspan></text>
<circle cx="122.9" cy="553.0" r="11.6" fill="#8ccb88" stroke="#6cbb69" stroke-width="1.2"/>
<circle cx="140.7" cy="569.3" r="12.8" fill="#8ccb88" stroke="#6cbb69" stroke-width="1.2"/>
<circle cx="133.8" cy="540.6" r="10.0" fill="#fba62b" stroke="#f28a1f" stroke-width="1.2"/>
<circle cx="150.1" cy="555.6" r="10.0" fill="#fba62b" stroke="#f28a1f" stroke-width="1.2"/>
<text transform="translate(121.9 563.6) scale(1.200 1)" font-size="13.0" font-weight="bold" fill="#000" stroke="#000" stroke-width="0.35">H<tspan font-size="7.8" dy="3.9">2</tspan></text>
<circle cx="141.5" cy="700.0" r="11.6" fill="#8ccb88" stroke="#6cbb69" stroke-width="1.2"/>
<circle cx="159.3" cy="716.3" r="12.8" fill="#8ccb88" stroke="#6cbb69" stroke-width="1.2"/>
<circle cx="152.4" cy="687.6" r="10.0" fill="#fba62b" stroke="#f28a1f" stroke-width="1.2"/>
<circle cx="168.7" cy="702.6" r="10.0" fill="#fba62b" stroke="#f28a1f" stroke-width="1.2"/>
<text transform="translate(140.5 710.6) scale(1.200 1)" font-size="13.0" font-weight="bold" fill="#000" stroke="#000" stroke-width="0.35">H<tspan font-size="7.8" dy="3.9">2</tspan></text>
<circle cx="82.8" cy="878.4" r="11.6" fill="#8ccb88" stroke="#6cbb69" stroke-width="1.2"/>
<circle cx="100.6" cy="894.7" r="12.8" fill="#8ccb88" stroke="#6cbb69" stroke-width="1.2"/>
<circle cx="93.7" cy="866.0" r="10.0" fill="#fba62b" stroke="#f28a1f" stroke-width="1.2"/>
<circle cx="110.0" cy="881.0" r="10.0" fill="#fba62b" stroke="#f28a1f" stroke-width="1.2"/>
<text transform="translate(81.8 889.0) scale(1.200 1)" font-size="13.0" font-weight="bold" fill="#000" stroke="#000" stroke-width="0.35">H<tspan font-size="7.8" dy="3.9">2</tspan></text>
<circle cx="296.3" cy="558.8" r="12.8" fill="#95d6ea" stroke="#36bbdf" stroke-width="1.6"/>
<text transform="translate(286.5 563.3) scale(1.100 1)" font-size="13.5" font-weight="bold" fill="#000" stroke="#000" stroke-width="0.35">O<tspan font-size="8.1" dy="4.3">2</tspan><tspan font-size="13.5" dy="-4.0">-</tspan></text>
<circle cx="283.3" cy="593.0" r="12.8" fill="#95d6ea" stroke="#36bbdf" stroke-width="1.6"/>
<text transform="translate(273.5 597.5) scale(1.100 1)" font-size="13.5" font-weight="bold" fill="#000" stroke="#000" stroke-width="0.35">O<tspan font-size="8.1" dy="4.3">2</tspan><tspan font-size="13.5" dy="-4.0">-</tspan></text>
<circle cx="317.0" cy="636.3" r="12.8" fill="#95d6ea" stroke="#36bbdf" stroke-width="1.4"/>
<circle cx="333.8" cy="649.5" r="12.8" fill="#95d6ea" stroke="#36bbdf" stroke-width="1.4"/>
<text transform="translate(315.5 643.8) scale(1.100 1)" font-size="14.0" font-weight="bold" fill="#000" stroke="#000" stroke-width="0.35">O<tspan font-size="8.4" dy="4.5">2</tspan></text>
<circle cx="298.9" cy="793.7" r="12.8" fill="#95d6ea" stroke="#36bbdf" stroke-width="1.4"/>
<circle cx="315.7" cy="806.9" r="12.8" fill="#95d6ea" stroke="#36bbdf" stroke-width="1.4"/>
<text transform="translate(297.4 801.2) scale(1.100 1)" font-size="14.0" font-weight="bold" fill="#000" stroke="#000" stroke-width="0.35">O<tspan font-size="8.4" dy="4.5">2</tspan></text>
<circle cx="332.6" cy="888.0" r="12.8" fill="#95d6ea" stroke="#36bbdf" stroke-width="1.4"/>
<circle cx="349.4" cy="901.2" r="12.8" fill="#95d6ea" stroke="#36bbdf" stroke-width="1.4"/>
<text transform="translate(331.1 895.5) scale(1.100 1)" font-size="14.0" font-weight="bold" fill="#000" stroke="#000" stroke-width="0.35">O<tspan font-size="8.4" dy="4.5">2</tspan></text>
<!-- lines -->
<circle cx="404.3" cy="630.7" r="11.7" fill="none" stroke="#217dc3" stroke-width="1.8"/>
<line x1="416.0" y1="630.7" x2="557.5" y2="630.7" stroke="#217dc3" stroke-width="1.8"/>
<circle cx="373.3" cy="660.5" r="11.7" fill="none" stroke="#217dc3" stroke-width="1.8"/>
<line x1="385.0" y1="660.5" x2="557.5" y2="660.5" stroke="#217dc3" stroke-width="1.8"/>
<circle cx="291.8" cy="690.3" r="11.7" fill="none" stroke="#217dc3" stroke-width="1.8"/>
<line x1="303.5" y1="690.3" x2="557.5" y2="690.3" stroke="#217dc3" stroke-width="1.8"/>
<circle cx="267.3" cy="727.3" r="11.7" fill="none" stroke="#217dc3" stroke-width="1.8"/>
<line x1="279.0" y1="727.3" x2="557.5" y2="727.3" stroke="#217dc3" stroke-width="1.8"/>
<circle cx="206.3" cy="814.7" r="11.7" fill="none" stroke="#217dc3" stroke-width="1.8"/>
<line x1="218.0" y1="814.7" x2="557.5" y2="814.7" stroke="#217dc3" stroke-width="1.8"/>
<circle cx="233.5" cy="756.5" r="11.7" fill="none" stroke="#1a82c6" stroke-width="1.4" opacity="0.55"/>
<rect x="245" y="756.7" width="312.5" height="1.8" fill="url(#gPemLine)"/>
<!-- right -->
<path d="M864.0,651 C880.0,628 905.0,606 932.0,597.5 C945.0,593 958.0,594 969.0,599 C985.0,606 996.0,618 1001.0,633.5 L1009.5,632.5 L992.5,658 L966.0,640 L977.0,642.5 C971.0,630 964.0,618 954.0,611 C944.0,603 934.0,601 925.0,603.5 C908.0,611 896.0,630 889.0,651 Z" fill="url(#gRed1)" />
<path d="M1019.5,651 C1035.5,628 1060.5,606 1087.5,597.5 C1100.5,593 1113.5,594 1124.5,599 C1140.5,606 1151.5,618 1156.5,633.5 L1165.0,632.5 L1148.0,658 L1121.5,640 L1132.5,642.5 C1126.5,630 1119.5,618 1109.5,611 C1099.5,603 1089.5,601 1080.5,603.5 C1063.5,611 1051.5,630 1044.5,651 Z" fill="url(#gRed2)" />
<rect x="860.2" y="667.2" width="27.8" height="127.8" fill="#a9b7c4"/>
<rect x="866.9" y="667.2" width="13.6" height="128.6" fill="#1f85cb"/>
<g clip-path="url(#cpPem)"><g stroke="#a9b7c4"><line x1="865" y1="666.9" x2="882" y2="659.3" stroke-width="3.5"/><line x1="865" y1="672.0" x2="882" y2="669.0" stroke-width="2.0"/><line x1="865" y1="674.3" x2="882" y2="672.8" stroke-width="2.0"/><line x1="865" y1="680.4" x2="882" y2="687.6" stroke-width="2.1"/><line x1="865" y1="685.9" x2="882" y2="695.7" stroke-width="3.3"/><line x1="865" y1="692.9" x2="882" y2="682.9" stroke-width="4.0"/><line x1="865" y1="692.4" x2="882" y2="684.0" stroke-width="2.6"/><line x1="865" y1="699.0" x2="882" y2="700.8" stroke-width="3.5"/><line x1="865" y1="706.0" x2="882" y2="696.4" stroke-width="2.0"/><line x1="865" y1="711.0" x2="882" y2="709.4" stroke-width="2.6"/><line x1="865" y1="715.2" x2="882" y2="710.8" stroke-width="3.9"/><line x1="865" y1="719.9" x2="882" y2="721.5" stroke-width="3.2"/><line x1="865" y1="729.3" x2="882" y2="724.7" stroke-width="4.3"/><line x1="865" y1="731.4" x2="882" y2="737.0" stroke-width="2.2"/><line x1="865" y1="734.3" x2="882" y2="738.0" stroke-width="3.8"/><line x1="865" y1="744.9" x2="882" y2="740.8" stroke-width="3.6"/><line x1="865" y1="748.7" x2="882" y2="747.7" stroke-width="4.0"/><line x1="865" y1="754.8" x2="882" y2="758.4" stroke-width="2.0"/><line x1="865" y1="761.8" x2="882" y2="772.7" stroke-width="3.9"/><line x1="865" y1="764.8" x2="882" y2="768.5" stroke-width="1.9"/><line x1="865" y1="768.6" x2="882" y2="760.1" stroke-width="2.0"/><line x1="865" y1="774.5" x2="882" y2="769.0" stroke-width="2.8"/><line x1="865" y1="780.8" x2="882" y2="779.7" stroke-width="3.2"/><line x1="865" y1="791.8" x2="882" y2="799.8" stroke-width="2.5"/><line x1="865" y1="794.0" x2="882" y2="802.4" stroke-width="4.3"/></g><path d="M866.5,695.0 L870.5,701.7 L873.6,698.2 Z M869.6,665.2 L869.0,672.4 L873.6,671.2 Z M879.6,751.7 L876.7,759.6 L881.7,759.9 Z M871.3,779.3 L862.4,783.2 L865.8,787.3 Z M868.2,717.4 L875.5,721.5 L876.5,718.5 Z M865.0,692.9 L870.0,697.5 L871.6,694.8 Z M863.8,686.1 L869.8,689.7 L870.7,686.8 Z M875.6,744.6 L880.3,749.2 L882.1,745.6 Z M876.2,681.3 L866.3,683.9 L868.3,687.8 Z M870.1,677.8 L875.9,681.8 L877.1,678.2 Z M872.9,688.1 L882.5,691.1 L882.8,686.6 Z M865.1,736.7 L872.5,740.3 L873.0,734.4 Z M875.9,753.9 L879.3,760.1 L881.8,757.7 Z M879.6,733.5 L873.3,736.4 L875.7,739.2 Z M881.6,791.1 L872.3,792.7 L874.7,797.5 Z M876.8,693.4 L874.9,700.1 L878.0,700.3 Z M864.5,700.4 L868.1,708.6 L872.4,704.5 Z M877.7,786.8 L867.9,785.1 L868.0,789.2 Z M867.4,695.1 L870.9,700.5 L873.7,696.6 Z M878.4,770.6 L876.3,779.0 L881.7,778.7 Z M872.4,750.6 L863.1,750.6 L864.6,755.7 Z M875.8,688.6 L868.9,690.6 L872.2,694.9 Z M878.1,713.6 L878.7,723.7 L883.6,722.1 Z M865.0,682.0 L872.2,688.7 L874.7,683.9 Z" fill="#a9b7c4"/></g>
<rect x="948" y="663" width="94" height="134.5" fill="url(#gXs)"/>
<rect x="948" y="663" width="94" height="134.5" filter="url(#fNoise)" opacity="0.28"/>
<rect x="948" y="663" width="94" height="134.5" filter="url(#fNoiseW)" opacity="0.3"/>
<rect x="985" y="683" width="38" height="1" fill="#2a2aa0"/><rect x="983" y="739" width="11" height="1" fill="#2a2aa0"/>
<rect x="1023" y="683" width="18" height="1" fill="#8a8ad0" opacity="0.6"/>
<path d="M1006,741 l2,0 l-2,4 l3,0 M1006,748 l3,1 l-3,2" stroke="#2b2bb0" stroke-width="0.8" fill="none"/>
<rect x="1098.5" y="663.3" width="182" height="134.2" fill="#7587a7"/>
<g clip-path="url(#cpE)"><g filter="url(#fBlur)"><g fill="#262f43" opacity="0.8"><ellipse cx="1125.5" cy="773.8" rx="4.4" ry="5.5" transform="rotate(4 1125.5 773.8)"/><ellipse cx="1127.2" cy="736.5" rx="1.6" ry="6.1" transform="rotate(-27 1127.2 736.5)"/><ellipse cx="1194.3" cy="788.1" rx="2.8" ry="6.4" transform="rotate(-13 1194.3 788.1)"/><ellipse cx="1104.1" cy="691.5" rx="3.0" ry="5.9" transform="rotate(1 1104.1 691.5)"/><ellipse cx="1145.9" cy="719.1" rx="1.9" ry="6.6" transform="rotate(5 1145.9 719.1)"/><ellipse cx="1261.5" cy="751.8" rx="3.9" ry="4.8" transform="rotate(24 1261.5 751.8)"/><ellipse cx="1122.7" cy="683.3" rx="3.0" ry="6.4" transform="rotate(-17 1122.7 683.3)"/><ellipse cx="1209.1" cy="767.0" rx="1.9" ry="3.1" transform="rotate(39 1209.1 767.0)"/><ellipse cx="1230.3" cy="737.6" rx="2.5" ry="4.8" transform="rotate(31 1230.3 737.6)"/><ellipse cx="1186.3" cy="767.0" rx="4.1" ry="2.8" transform="rotate(-16 1186.3 767.0)"/><ellipse cx="1149.1" cy="766.5" rx="3.0" ry="5.0" transform="rotate(-32 1149.1 766.5)"/><ellipse cx="1179.2" cy="745.1" rx="3.0" ry="4.8" transform="rotate(-5 1179.2 745.1)"/><ellipse cx="1180.9" cy="734.5" rx="2.9" ry="6.7" transform="rotate(26 1180.9 734.5)"/><ellipse cx="1257.7" cy="789.3" rx="2.3" ry="5.0" transform="rotate(-15 1257.7 789.3)"/><ellipse cx="1251.0" cy="681.4" rx="1.9" ry="4.5" transform="rotate(-31 1251.0 681.4)"/><ellipse cx="1220.5" cy="720.4" rx="2.1" ry="3.9" transform="rotate(-25 1220.5 720.4)"/><ellipse cx="1261.4" cy="683.7" rx="3.6" ry="5.5" transform="rotate(-22 1261.4 683.7)"/><ellipse cx="1144.8" cy="681.4" rx="2.9" ry="5.9" transform="rotate(-28 1144.8 681.4)"/><ellipse cx="1171.1" cy="728.3" rx="4.5" ry="6.2" transform="rotate(-20 1171.1 728.3)"/><ellipse cx="1226.8" cy="796.2" rx="2.7" ry="4.4" transform="rotate(5 1226.8 796.2)"/><ellipse cx="1156.7" cy="759.8" rx="1.6" ry="5.0" transform="rotate(16 1156.7 759.8)"/><ellipse cx="1226.3" cy="714.5" rx="3.1" ry="3.8" transform="rotate(-32 1226.3 714.5)"/><ellipse cx="1119.4" cy="786.1" rx="2.2" ry="6.4" transform="rotate(-30 1119.4 786.1)"/><ellipse cx="1147.1" cy="668.3" rx="3.8" ry="3.7" transform="rotate(-24 1147.1 668.3)"/><ellipse cx="1247.4" cy="776.8" rx="3.5" ry="6.8" transform="rotate(11 1247.4 776.8)"/><ellipse cx="1126.0" cy="786.2" rx="3.2" ry="5.7" transform="rotate(-29 1126.0 786.2)"/><ellipse cx="1149.5" cy="770.1" rx="2.1" ry="6.5" transform="rotate(-6 1149.5 770.1)"/><ellipse cx="1268.8" cy="748.0" rx="3.9" ry="2.9" transform="rotate(-12 1268.8 748.0)"/><ellipse cx="1111.1" cy="778.6" rx="2.9" ry="4.0" transform="rotate(30 1111.1 778.6)"/><ellipse cx="1174.6" cy="785.7" rx="3.4" ry="2.7" transform="rotate(-10 1174.6 785.7)"/><ellipse cx="1268.8" cy="792.9" rx="2.3" ry="3.3" transform="rotate(-1 1268.8 792.9)"/><ellipse cx="1212.8" cy="734.2" rx="2.1" ry="4.5" transform="rotate(-18 1212.8 734.2)"/><ellipse cx="1148.0" cy="770.7" rx="4.5" ry="2.7" transform="rotate(-38 1148.0 770.7)"/><ellipse cx="1231.7" cy="736.8" rx="2.1" ry="4.6" transform="rotate(17 1231.7 736.8)"/><ellipse cx="1118.2" cy="772.7" rx="2.8" ry="4.7" transform="rotate(10 1118.2 772.7)"/><ellipse cx="1274.6" cy="704.2" rx="2.1" ry="3.5" transform="rotate(-15 1274.6 704.2)"/><ellipse cx="1249.6" cy="757.7" rx="3.4" ry="4.3" transform="rotate(4 1249.6 757.7)"/><ellipse cx="1276.7" cy="775.2" rx="1.5" ry="5.3" transform="rotate(-8 1276.7 775.2)"/><ellipse cx="1177.0" cy="670.4" rx="3.5" ry="4.2" transform="rotate(24 1177.0 670.4)"/><ellipse cx="1220.4" cy="700.8" rx="2.2" ry="3.8" transform="rotate(18 1220.4 700.8)"/><ellipse cx="1132.5" cy="699.1" rx="1.5" ry="4.1" transform="rotate(2 1132.5 699.1)"/><ellipse cx="1275.0" cy="736.3" rx="2.2" ry="6.8" transform="rotate(-1 1275.0 736.3)"/><ellipse cx="1138.4" cy="687.5" rx="2.5" ry="2.9" transform="rotate(-5 1138.4 687.5)"/><ellipse cx="1190.0" cy="689.9" rx="3.0" ry="2.5" transform="rotate(-7 1190.0 689.9)"/><ellipse cx="1246.9" cy="682.3" rx="3.3" ry="4.3" transform="rotate(-2 1246.9 682.3)"/><ellipse cx="1154.1" cy="694.2" rx="3.3" ry="4.9" transform="rotate(-21 1154.1 694.2)"/><ellipse cx="1218.0" cy="758.9" rx="4.1" ry="4.3" transform="rotate(1 1218.0 758.9)"/><ellipse cx="1229.4" cy="729.2" rx="2.4" ry="5.3" transform="rotate(-22 1229.4 729.2)"/><ellipse cx="1106.9" cy="774.9" rx="4.2" ry="5.3" transform="rotate(24 1106.9 774.9)"/><ellipse cx="1124.2" cy="733.2" rx="3.0" ry="6.3" transform="rotate(-38 1124.2 733.2)"/><ellipse cx="1248.6" cy="741.3" rx="4.2" ry="5.6" transform="rotate(-11 1248.6 741.3)"/><ellipse cx="1114.4" cy="668.6" rx="3.4" ry="6.8" transform="rotate(8 1114.4 668.6)"/><ellipse cx="1250.3" cy="737.8" rx="3.4" ry="5.3" transform="rotate(-9 1250.3 737.8)"/><ellipse cx="1187.6" cy="663.4" rx="3.9" ry="5.9" transform="rotate(24 1187.6 663.4)"/><ellipse cx="1261.5" cy="675.3" rx="3.1" ry="5.9" transform="rotate(20 1261.5 675.3)"/><ellipse cx="1144.6" cy="673.0" rx="2.3" ry="5.8" transform="rotate(-14 1144.6 673.0)"/><ellipse cx="1140.8" cy="750.1" rx="2.9" ry="6.3" transform="rotate(-31 1140.8 750.1)"/><ellipse cx="1185.7" cy="754.6" rx="3.8" ry="5.3" transform="rotate(-15 1185.7 754.6)"/><ellipse cx="1113.0" cy="682.8" rx="2.3" ry="5.8" transform="rotate(-2 1113.0 682.8)"/><ellipse cx="1211.4" cy="680.9" rx="2.9" ry="4.7" transform="rotate(-28 1211.4 680.9)"/><ellipse cx="1224.3" cy="753.5" rx="2.4" ry="4.8" transform="rotate(19 1224.3 753.5)"/><ellipse cx="1183.3" cy="765.8" rx="4.5" ry="5.0" transform="rotate(-1 1183.3 765.8)"/><ellipse cx="1276.0" cy="788.5" rx="1.6" ry="4.6" transform="rotate(24 1276.0 788.5)"/><ellipse cx="1274.2" cy="723.2" rx="2.3" ry="3.4" transform="rotate(-14 1274.2 723.2)"/><ellipse cx="1112.5" cy="675.1" rx="3.7" ry="3.7" transform="rotate(6 1112.5 675.1)"/><ellipse cx="1123.0" cy="772.9" rx="3.0" ry="6.5" transform="rotate(6 1123.0 772.9)"/><ellipse cx="1140.9" cy="783.3" rx="3.0" ry="2.6" transform="rotate(-40 1140.9 783.3)"/><ellipse cx="1270.9" cy="754.3" rx="2.7" ry="5.8" transform="rotate(13 1270.9 754.3)"/><ellipse cx="1161.3" cy="705.4" rx="4.0" ry="2.5" transform="rotate(3 1161.3 705.4)"/><ellipse cx="1250.9" cy="679.1" rx="4.3" ry="5.7" transform="rotate(-3 1250.9 679.1)"/><ellipse cx="1144.8" cy="671.7" rx="2.7" ry="6.4" transform="rotate(-31 1144.8 671.7)"/><ellipse cx="1164.3" cy="720.4" rx="2.3" ry="2.7" transform="rotate(-27 1164.3 720.4)"/><ellipse cx="1108.3" cy="751.7" rx="3.4" ry="3.2" transform="rotate(-6 1108.3 751.7)"/><ellipse cx="1178.0" cy="705.3" rx="3.8" ry="6.0" transform="rotate(14 1178.0 705.3)"/><ellipse cx="1259.1" cy="771.8" rx="3.4" ry="6.6" transform="rotate(30 1259.1 771.8)"/><ellipse cx="1198.4" cy="759.4" rx="1.6" ry="5.8" transform="rotate(17 1198.4 759.4)"/><ellipse cx="1210.3" cy="681.6" rx="4.1" ry="4.7" transform="rotate(30 1210.3 681.6)"/><ellipse cx="1122.0" cy="726.3" rx="2.5" ry="3.8" transform="rotate(-7 1122.0 726.3)"/><ellipse cx="1172.5" cy="695.0" rx="2.9" ry="5.5" transform="rotate(-25 1172.5 695.0)"/><ellipse cx="1129.3" cy="684.7" rx="2.1" ry="6.6" transform="rotate(23 1129.3 684.7)"/><ellipse cx="1198.6" cy="723.7" rx="2.5" ry="5.9" transform="rotate(14 1198.6 723.7)"/><ellipse cx="1124.3" cy="688.8" rx="1.8" ry="4.0" transform="rotate(-29 1124.3 688.8)"/><ellipse cx="1156.8" cy="712.4" rx="3.9" ry="3.4" transform="rotate(-38 1156.8 712.4)"/><ellipse cx="1234.7" cy="718.3" rx="2.7" ry="4.9" transform="rotate(8 1234.7 718.3)"/><ellipse cx="1147.9" cy="763.8" rx="3.0" ry="5.1" transform="rotate(6 1147.9 763.8)"/><ellipse cx="1121.8" cy="730.5" rx="3.4" ry="6.4" transform="rotate(-13 1121.8 730.5)"/><ellipse cx="1115.8" cy="783.2" rx="2.7" ry="5.4" transform="rotate(15 1115.8 783.2)"/><ellipse cx="1271.7" cy="776.7" rx="4.1" ry="2.6" transform="rotate(-36 1271.7 776.7)"/><ellipse cx="1176.0" cy="765.3" rx="3.9" ry="6.9" transform="rotate(22 1176.0 765.3)"/><ellipse cx="1099.0" cy="715.5" rx="4.3" ry="6.2" transform="rotate(19 1099.0 715.5)"/><ellipse cx="1275.0" cy="696.3" rx="1.8" ry="3.2" transform="rotate(26 1275.0 696.3)"/><ellipse cx="1274.9" cy="677.6" rx="4.0" ry="5.7" transform="rotate(18 1274.9 677.6)"/><ellipse cx="1114.4" cy="767.1" rx="1.5" ry="3.1" transform="rotate(32 1114.4 767.1)"/><ellipse cx="1265.5" cy="749.5" rx="2.4" ry="3.1" transform="rotate(-8 1265.5 749.5)"/><ellipse cx="1194.6" cy="721.6" rx="3.8" ry="2.9" transform="rotate(-2 1194.6 721.6)"/><ellipse cx="1193.9" cy="741.1" rx="2.7" ry="3.5" transform="rotate(36 1193.9 741.1)"/><ellipse cx="1099.2" cy="735.0" rx="4.5" ry="3.8" transform="rotate(0 1099.2 735.0)"/><ellipse cx="1215.7" cy="781.4" rx="2.9" ry="3.6" transform="rotate(-9 1215.7 781.4)"/><ellipse cx="1104.3" cy="718.2" rx="3.4" ry="2.7" transform="rotate(-16 1104.3 718.2)"/><ellipse cx="1189.2" cy="753.4" rx="2.8" ry="3.7" transform="rotate(14 1189.2 753.4)"/><ellipse cx="1266.5" cy="693.4" rx="1.6" ry="4.0" transform="rotate(13 1266.5 693.4)"/><ellipse cx="1164.6" cy="716.1" rx="1.5" ry="3.8" transform="rotate(24 1164.6 716.1)"/><ellipse cx="1111.2" cy="729.4" rx="2.1" ry="5.9" transform="rotate(-16 1111.2 729.4)"/><ellipse cx="1140.8" cy="692.7" rx="3.8" ry="3.8" transform="rotate(39 1140.8 692.7)"/><ellipse cx="1188.7" cy="688.1" rx="2.2" ry="4.4" transform="rotate(-33 1188.7 688.1)"/><ellipse cx="1270.7" cy="682.6" rx="2.7" ry="3.5" transform="rotate(36 1270.7 682.6)"/><ellipse cx="1124.7" cy="669.9" rx="1.7" ry="4.3" transform="rotate(0 1124.7 669.9)"/><ellipse cx="1231.6" cy="796.7" rx="4.3" ry="4.0" transform="rotate(-17 1231.6 796.7)"/><ellipse cx="1217.1" cy="733.3" rx="2.9" ry="3.9" transform="rotate(8 1217.1 733.3)"/><ellipse cx="1250.9" cy="795.0" rx="2.8" ry="3.0" transform="rotate(-30 1250.9 795.0)"/><ellipse cx="1149.6" cy="710.1" rx="4.4" ry="3.1" transform="rotate(-14 1149.6 710.1)"/><ellipse cx="1167.8" cy="766.0" rx="2.4" ry="6.1" transform="rotate(-29 1167.8 766.0)"/><ellipse cx="1107.9" cy="726.4" rx="2.6" ry="6.6" transform="rotate(-16 1107.9 726.4)"/><ellipse cx="1157.5" cy="761.8" rx="2.9" ry="5.3" transform="rotate(-9 1157.5 761.8)"/><ellipse cx="1245.9" cy="765.7" rx="1.6" ry="2.7" transform="rotate(-32 1245.9 765.7)"/><ellipse cx="1244.4" cy="671.3" rx="2.1" ry="2.8" transform="rotate(37 1244.4 671.3)"/><ellipse cx="1160.4" cy="699.5" rx="4.4" ry="5.3" transform="rotate(-7 1160.4 699.5)"/><ellipse cx="1234.1" cy="755.4" rx="4.3" ry="3.8" transform="rotate(36 1234.1 755.4)"/><ellipse cx="1264.9" cy="748.0" rx="4.3" ry="2.6" transform="rotate(-11 1264.9 748.0)"/><ellipse cx="1118.4" cy="758.9" rx="2.9" ry="6.0" transform="rotate(-8 1118.4 758.9)"/><ellipse cx="1264.4" cy="772.2" rx="1.9" ry="4.7" transform="rotate(-39 1264.4 772.2)"/><ellipse cx="1244.3" cy="762.0" rx="4.0" ry="6.0" transform="rotate(37 1244.3 762.0)"/><ellipse cx="1141.7" cy="778.4" rx="2.9" ry="6.0" transform="rotate(36 1141.7 778.4)"/><ellipse cx="1113.3" cy="689.4" rx="3.8" ry="3.6" transform="rotate(-32 1113.3 689.4)"/><ellipse cx="1216.6" cy="727.5" rx="3.1" ry="3.2" transform="rotate(14 1216.6 727.5)"/><ellipse cx="1258.9" cy="795.4" rx="2.3" ry="2.9" transform="rotate(-28 1258.9 795.4)"/><ellipse cx="1175.2" cy="795.4" rx="4.4" ry="3.3" transform="rotate(-23 1175.2 795.4)"/><ellipse cx="1174.4" cy="746.1" rx="3.5" ry="5.9" transform="rotate(-25 1174.4 746.1)"/><ellipse cx="1240.1" cy="702.4" rx="2.3" ry="3.7" transform="rotate(-8 1240.1 702.4)"/><ellipse cx="1232.6" cy="689.7" rx="2.2" ry="3.6" transform="rotate(-21 1232.6 689.7)"/><ellipse cx="1149.9" cy="784.6" rx="2.1" ry="2.8" transform="rotate(-8 1149.9 784.6)"/><ellipse cx="1278.6" cy="731.0" rx="2.2" ry="6.1" transform="rotate(19 1278.6 731.0)"/><ellipse cx="1278.4" cy="676.7" rx="2.9" ry="6.2" transform="rotate(17 1278.4 676.7)"/><ellipse cx="1264.5" cy="668.4" rx="2.4" ry="3.0" transform="rotate(-16 1264.5 668.4)"/><ellipse cx="1207.7" cy="773.9" rx="2.1" ry="2.8" transform="rotate(25 1207.7 773.9)"/><ellipse cx="1255.8" cy="723.2" rx="2.3" ry="6.0" transform="rotate(-40 1255.8 723.2)"/><ellipse cx="1118.1" cy="742.9" rx="3.4" ry="3.5" transform="rotate(7 1118.1 742.9)"/><ellipse cx="1160.5" cy="668.9" rx="4.5" ry="2.7" transform="rotate(-14 1160.5 668.9)"/><ellipse cx="1246.5" cy="772.7" rx="2.7" ry="4.2" transform="rotate(39 1246.5 772.7)"/><ellipse cx="1155.5" cy="690.3" rx="3.9" ry="5.0" transform="rotate(-32 1155.5 690.3)"/><ellipse cx="1172.9" cy="769.6" rx="3.5" ry="3.2" transform="rotate(28 1172.9 769.6)"/><ellipse cx="1115.5" cy="684.9" rx="3.6" ry="4.3" transform="rotate(-4 1115.5 684.9)"/><ellipse cx="1219.9" cy="719.0" rx="1.7" ry="5.9" transform="rotate(5 1219.9 719.0)"/><ellipse cx="1173.9" cy="665.4" rx="3.8" ry="6.1" transform="rotate(-15 1173.9 665.4)"/><ellipse cx="1169.7" cy="717.3" rx="4.3" ry="4.5" transform="rotate(-20 1169.7 717.3)"/><ellipse cx="1175.7" cy="772.9" rx="2.7" ry="6.5" transform="rotate(18 1175.7 772.9)"/><ellipse cx="1238.9" cy="680.4" rx="1.7" ry="3.1" transform="rotate(10 1238.9 680.4)"/><ellipse cx="1115.1" cy="746.4" rx="2.6" ry="4.8" transform="rotate(-22 1115.1 746.4)"/><ellipse cx="1162.0" cy="684.7" rx="2.0" ry="2.8" transform="rotate(9 1162.0 684.7)"/><ellipse cx="1187.8" cy="770.8" rx="4.4" ry="3.4" transform="rotate(-24 1187.8 770.8)"/><ellipse cx="1250.5" cy="668.8" rx="4.2" ry="3.9" transform="rotate(37 1250.5 668.8)"/><ellipse cx="1266.6" cy="715.0" rx="4.2" ry="5.3" transform="rotate(-20 1266.6 715.0)"/><ellipse cx="1214.9" cy="777.8" rx="3.4" ry="5.3" transform="rotate(-15 1214.9 777.8)"/><ellipse cx="1249.1" cy="687.5" rx="2.2" ry="4.3" transform="rotate(26 1249.1 687.5)"/><ellipse cx="1127.3" cy="711.1" rx="1.9" ry="6.9" transform="rotate(-16 1127.3 711.1)"/><ellipse cx="1106.4" cy="738.4" rx="3.8" ry="2.7" transform="rotate(1 1106.4 738.4)"/><ellipse cx="1120.3" cy="743.3" rx="3.2" ry="5.3" transform="rotate(-1 1120.3 743.3)"/><ellipse cx="1216.5" cy="704.3" rx="2.2" ry="4.3" transform="rotate(7 1216.5 704.3)"/><ellipse cx="1179.9" cy="721.7" rx="1.6" ry="5.3" transform="rotate(22 1179.9 721.7)"/><ellipse cx="1183.2" cy="722.9" rx="3.4" ry="6.2" transform="rotate(-18 1183.2 722.9)"/><ellipse cx="1245.7" cy="716.6" rx="1.7" ry="4.1" transform="rotate(6 1245.7 716.6)"/><ellipse cx="1115.6" cy="722.2" rx="3.0" ry="2.7" transform="rotate(-24 1115.6 722.2)"/><ellipse cx="1113.9" cy="761.3" rx="3.8" ry="4.8" transform="rotate(-34 1113.9 761.3)"/><ellipse cx="1235.1" cy="782.9" rx="3.5" ry="6.0" transform="rotate(-37 1235.1 782.9)"/><ellipse cx="1254.1" cy="796.5" rx="3.7" ry="6.2" transform="rotate(-16 1254.1 796.5)"/><ellipse cx="1122.8" cy="781.7" rx="2.4" ry="6.1" transform="rotate(-19 1122.8 781.7)"/><ellipse cx="1223.2" cy="759.6" rx="2.2" ry="6.2" transform="rotate(38 1223.2 759.6)"/><ellipse cx="1235.9" cy="684.3" rx="4.2" ry="3.7" transform="rotate(18 1235.9 684.3)"/><ellipse cx="1125.0" cy="730.3" rx="4.3" ry="3.4" transform="rotate(-7 1125.0 730.3)"/><ellipse cx="1210.5" cy="694.8" rx="2.6" ry="3.4" transform="rotate(11 1210.5 694.8)"/><ellipse cx="1128.2" cy="788.5" rx="3.5" ry="6.5" transform="rotate(-19 1128.2 788.5)"/><ellipse cx="1242.4" cy="698.4" rx="3.8" ry="2.7" transform="rotate(6 1242.4 698.4)"/><ellipse cx="1273.9" cy="723.7" rx="3.1" ry="5.6" transform="rotate(-27 1273.9 723.7)"/><ellipse cx="1144.6" cy="734.8" rx="4.1" ry="5.8" transform="rotate(7 1144.6 734.8)"/><ellipse cx="1146.9" cy="795.7" rx="3.2" ry="4.1" transform="rotate(-30 1146.9 795.7)"/><ellipse cx="1179.1" cy="686.7" rx="3.7" ry="2.7" transform="rotate(26 1179.1 686.7)"/><ellipse cx="1144.9" cy="748.7" rx="4.5" ry="5.1" transform="rotate(0 1144.9 748.7)"/><ellipse cx="1231.7" cy="763.1" rx="2.2" ry="3.8" transform="rotate(40 1231.7 763.1)"/><ellipse cx="1177.2" cy="731.7" rx="4.2" ry="3.1" transform="rotate(-11 1177.2 731.7)"/><ellipse cx="1209.9" cy="669.1" rx="1.7" ry="5.1" transform="rotate(-2 1209.9 669.1)"/><ellipse cx="1118.3" cy="710.9" rx="2.2" ry="5.1" transform="rotate(35 1118.3 710.9)"/><ellipse cx="1123.2" cy="712.1" rx="4.0" ry="3.2" transform="rotate(-39 1123.2 712.1)"/><ellipse cx="1268.5" cy="695.6" rx="1.9" ry="2.9" transform="rotate(-22 1268.5 695.6)"/><ellipse cx="1256.7" cy="767.8" rx="2.7" ry="3.7" transform="rotate(-39 1256.7 767.8)"/><ellipse cx="1109.2" cy="773.0" rx="4.2" ry="5.2" transform="rotate(34 1109.2 773.0)"/><ellipse cx="1179.3" cy="788.6" rx="3.7" ry="3.6" transform="rotate(-40 1179.3 788.6)"/><ellipse cx="1107.0" cy="734.2" rx="2.7" ry="3.6" transform="rotate(-33 1107.0 734.2)"/><ellipse cx="1264.0" cy="677.1" rx="3.3" ry="5.5" transform="rotate(-15 1264.0 677.1)"/><ellipse cx="1124.8" cy="689.7" rx="3.3" ry="4.8" transform="rotate(13 1124.8 689.7)"/><ellipse cx="1246.2" cy="686.4" rx="2.4" ry="3.9" transform="rotate(-34 1246.2 686.4)"/><ellipse cx="1278.9" cy="760.1" rx="2.9" ry="4.9" transform="rotate(8 1278.9 760.1)"/><ellipse cx="1251.8" cy="762.9" rx="2.9" ry="5.8" transform="rotate(17 1251.8 762.9)"/><ellipse cx="1130.7" cy="796.5" rx="2.3" ry="5.4" transform="rotate(-25 1130.7 796.5)"/><ellipse cx="1159.7" cy="763.5" rx="3.6" ry="6.3" transform="rotate(-34 1159.7 763.5)"/><ellipse cx="1147.1" cy="737.2" rx="2.8" ry="6.0" transform="rotate(26 1147.1 737.2)"/><ellipse cx="1274.9" cy="702.6" rx="4.3" ry="6.5" transform="rotate(-30 1274.9 702.6)"/><ellipse cx="1258.3" cy="665.0" rx="2.3" ry="3.6" transform="rotate(-15 1258.3 665.0)"/><ellipse cx="1270.0" cy="763.0" rx="2.5" ry="6.5" transform="rotate(2 1270.0 763.0)"/><ellipse cx="1207.8" cy="713.8" rx="4.1" ry="6.6" transform="rotate(28 1207.8 713.8)"/><ellipse cx="1184.0" cy="775.5" rx="3.6" ry="6.4" transform="rotate(15 1184.0 775.5)"/><ellipse cx="1272.0" cy="694.3" rx="4.2" ry="6.1" transform="rotate(10 1272.0 694.3)"/><ellipse cx="1211.7" cy="673.4" rx="4.2" ry="3.2" transform="rotate(-37 1211.7 673.4)"/><ellipse cx="1119.3" cy="746.3" rx="2.0" ry="6.9" transform="rotate(-37 1119.3 746.3)"/><ellipse cx="1104.6" cy="681.5" rx="3.4" ry="2.7" transform="rotate(-32 1104.6 681.5)"/><ellipse cx="1232.4" cy="671.8" rx="3.3" ry="4.1" transform="rotate(28 1232.4 671.8)"/><ellipse cx="1260.3" cy="671.8" rx="4.1" ry="6.6" transform="rotate(9 1260.3 671.8)"/><ellipse cx="1118.4" cy="690.6" rx="1.8" ry="2.7" transform="rotate(-29 1118.4 690.6)"/><ellipse cx="1248.3" cy="747.6" rx="2.4" ry="2.9" transform="rotate(-28 1248.3 747.6)"/><ellipse cx="1242.3" cy="749.6" rx="2.4" ry="4.0" transform="rotate(-7 1242.3 749.6)"/><ellipse cx="1102.8" cy="697.4" rx="2.3" ry="5.7" transform="rotate(7 1102.8 697.4)"/><ellipse cx="1263.8" cy="766.1" rx="3.3" ry="4.6" transform="rotate(-4 1263.8 766.1)"/><ellipse cx="1210.9" cy="667.2" rx="2.7" ry="4.5" transform="rotate(-28 1210.9 667.2)"/><ellipse cx="1161.8" cy="757.4" rx="3.1" ry="3.5" transform="rotate(-29 1161.8 757.4)"/><ellipse cx="1203.0" cy="701.5" rx="2.8" ry="4.9" transform="rotate(-4 1203.0 701.5)"/><ellipse cx="1237.0" cy="794.0" rx="1.5" ry="4.7" transform="rotate(22 1237.0 794.0)"/><ellipse cx="1224.8" cy="773.6" rx="4.4" ry="5.2" transform="rotate(25 1224.8 773.6)"/><ellipse cx="1146.2" cy="789.5" rx="2.4" ry="3.5" transform="rotate(-11 1146.2 789.5)"/><ellipse cx="1189.2" cy="677.7" rx="3.4" ry="2.9" transform="rotate(31 1189.2 677.7)"/><ellipse cx="1241.4" cy="747.1" rx="2.6" ry="4.3" transform="rotate(10 1241.4 747.1)"/><ellipse cx="1260.4" cy="762.9" rx="2.8" ry="5.4" transform="rotate(7 1260.4 762.9)"/><ellipse cx="1136.3" cy="698.3" rx="4.2" ry="4.8" transform="rotate(8 1136.3 698.3)"/><ellipse cx="1276.8" cy="747.5" rx="4.3" ry="3.1" transform="rotate(36 1276.8 747.5)"/><ellipse cx="1235.6" cy="763.9" rx="3.4" ry="4.1" transform="rotate(1 1235.6 763.9)"/><ellipse cx="1193.4" cy="779.3" rx="2.9" ry="5.0" transform="rotate(1 1193.4 779.3)"/><ellipse cx="1129.7" cy="721.8" rx="3.8" ry="5.1" transform="rotate(-24 1129.7 721.8)"/><ellipse cx="1159.5" cy="749.1" rx="3.6" ry="4.8" transform="rotate(-6 1159.5 749.1)"/><ellipse cx="1153.6" cy="757.2" rx="4.0" ry="3.2" transform="rotate(-21 1153.6 757.2)"/><ellipse cx="1275.4" cy="759.9" rx="3.3" ry="4.1" transform="rotate(-10 1275.4 759.9)"/><ellipse cx="1158.4" cy="688.4" rx="4.4" ry="5.8" transform="rotate(-27 1158.4 688.4)"/><ellipse cx="1128.8" cy="751.2" rx="2.1" ry="3.2" transform="rotate(-22 1128.8 751.2)"/><ellipse cx="1242.9" cy="761.3" rx="2.8" ry="3.4" transform="rotate(-27 1242.9 761.3)"/><ellipse cx="1149.8" cy="781.6" rx="2.9" ry="2.6" transform="rotate(15 1149.8 781.6)"/><ellipse cx="1224.5" cy="730.1" rx="3.4" ry="4.6" transform="rotate(-22 1224.5 730.1)"/><ellipse cx="1145.6" cy="761.9" rx="1.5" ry="3.6" transform="rotate(15 1145.6 761.9)"/><ellipse cx="1225.9" cy="741.7" rx="3.4" ry="6.3" transform="rotate(34 1225.9 741.7)"/><ellipse cx="1253.3" cy="754.1" rx="3.4" ry="4.5" transform="rotate(0 1253.3 754.1)"/><ellipse cx="1146.0" cy="756.9" rx="4.2" ry="3.6" transform="rotate(11 1146.0 756.9)"/><ellipse cx="1228.1" cy="747.4" rx="2.3" ry="4.4" transform="rotate(18 1228.1 747.4)"/><ellipse cx="1102.6" cy="778.0" rx="3.1" ry="5.5" transform="rotate(-17 1102.6 778.0)"/><ellipse cx="1260.9" cy="707.0" rx="1.5" ry="6.2" transform="rotate(-27 1260.9 707.0)"/><ellipse cx="1105.9" cy="735.8" rx="2.0" ry="6.0" transform="rotate(-15 1105.9 735.8)"/><ellipse cx="1193.0" cy="676.5" rx="3.2" ry="4.9" transform="rotate(20 1193.0 676.5)"/><ellipse cx="1191.7" cy="748.7" rx="4.0" ry="4.8" transform="rotate(12 1191.7 748.7)"/><ellipse cx="1233.3" cy="724.2" rx="4.5" ry="3.3" transform="rotate(25 1233.3 724.2)"/><ellipse cx="1237.0" cy="679.4" rx="4.5" ry="4.1" transform="rotate(-33 1237.0 679.4)"/><ellipse cx="1144.7" cy="714.2" rx="1.7" ry="2.8" transform="rotate(13 1144.7 714.2)"/><ellipse cx="1212.8" cy="753.4" rx="3.2" ry="3.0" transform="rotate(-2 1212.8 753.4)"/><ellipse cx="1233.2" cy="789.0" rx="3.1" ry="3.5" transform="rotate(10 1233.2 789.0)"/><ellipse cx="1182.6" cy="685.0" rx="4.3" ry="2.8" transform="rotate(-16 1182.6 685.0)"/><ellipse cx="1183.9" cy="738.3" rx="2.2" ry="6.8" transform="rotate(5 1183.9 738.3)"/><ellipse cx="1219.6" cy="774.3" rx="3.9" ry="4.4" transform="rotate(-3 1219.6 774.3)"/><ellipse cx="1236.5" cy="750.0" rx="3.8" ry="4.6" transform="rotate(-11 1236.5 750.0)"/><ellipse cx="1147.4" cy="713.4" rx="2.3" ry="4.4" transform="rotate(-17 1147.4 713.4)"/><ellipse cx="1186.2" cy="770.9" rx="3.9" ry="4.1" transform="rotate(-2 1186.2 770.9)"/><ellipse cx="1157.0" cy="728.0" rx="3.4" ry="2.9" transform="rotate(6 1157.0 728.0)"/><ellipse cx="1126.6" cy="703.6" rx="2.7" ry="2.9" transform="rotate(32 1126.6 703.6)"/><ellipse cx="1263.0" cy="768.1" rx="1.9" ry="6.2" transform="rotate(34 1263.0 768.1)"/><ellipse cx="1101.7" cy="664.5" rx="4.4" ry="5.5" transform="rotate(-8 1101.7 664.5)"/><ellipse cx="1209.1" cy="740.5" rx="4.1" ry="3.3" transform="rotate(17 1209.1 740.5)"/><ellipse cx="1161.7" cy="683.5" rx="4.2" ry="6.1" transform="rotate(-19 1161.7 683.5)"/></g>
<path d="M1214.1,760.1Q1207.7,784.8 1199.4,804.0 M1145.3,729.1Q1137.4,745.9 1146.3,749.2 M1227.7,668.7Q1215.3,688.1 1204.1,705.2 M1186.6,794.9Q1171.7,804.8 1167.1,828.2 M1211.9,767.5Q1205.2,781.5 1198.7,803.6 M1182.5,718.1Q1172.8,733.0 1156.0,760.6 M1159.3,753.4Q1164.7,779.1 1150.2,792.4 M1100.7,727.5Q1093.0,742.1 1099.5,768.2 M1171.4,670.3Q1167.1,679.0 1151.7,685.6 M1280.7,695.5Q1268.5,696.7 1266.3,715.9 M1143.6,706.8Q1166.5,723.0 1174.5,745.4 M1124.8,728.8Q1118.4,741.3 1124.3,745.2 M1108.1,805.6Q1097.8,796.3 1085.3,790.8 M1206.3,713.8Q1189.4,722.2 1190.7,717.8 M1184.5,772.6Q1170.1,776.6 1160.6,794.8 M1228.2,760.3Q1212.6,772.5 1213.7,803.2 M1219.4,750.0Q1206.8,761.7 1197.4,789.4 M1284.7,652.1Q1258.7,660.8 1247.2,677.2 M1236.2,788.0Q1237.1,795.9 1235.2,800.7 M1281.0,729.6Q1284.7,750.8 1275.3,761.0 M1172.6,761.3Q1178.8,789.6 1181.3,798.1 M1225.1,674.8Q1222.8,686.9 1218.6,715.6 M1183.9,793.3Q1190.5,808.3 1190.4,803.8 M1268.9,684.9Q1272.8,687.4 1277.8,698.9 M1205.2,722.1Q1210.9,738.9 1206.8,748.0 M1111.9,771.5Q1124.5,770.0 1134.8,768.6 M1227.3,792.4Q1217.1,806.5 1224.5,805.3 M1231.1,748.9Q1229.0,764.2 1234.5,775.5 M1290.7,783.6Q1306.9,804.0 1314.0,825.6 M1116.6,804.6Q1129.0,805.4 1123.2,819.7 M1256.4,726.3Q1259.9,734.0 1253.2,748.4 M1141.6,749.5Q1160.9,764.1 1168.2,774.8 M1271.3,766.1Q1264.0,795.5 1253.2,805.8 M1134.1,712.0Q1139.0,719.8 1133.0,738.2 M1179.3,760.2Q1190.0,774.1 1183.9,777.6 M1252.3,696.2Q1255.7,713.5 1243.5,711.1 M1112.3,806.1Q1106.7,826.7 1101.0,846.0 M1198.8,727.6Q1215.0,740.2 1219.6,744.0 M1296.1,699.5Q1292.0,716.1 1270.9,729.2 M1082.1,711.6Q1078.5,724.4 1073.5,743.0 M1093.8,713.7Q1102.1,732.1 1117.6,750.3 M1124.4,684.0Q1131.1,687.6 1125.6,699.5 M1207.1,707.4Q1212.7,717.6 1201.4,728.0 M1270.6,709.5Q1276.9,707.5 1300.0,712.9 M1086.7,694.9Q1096.6,705.8 1091.8,714.0 M1209.1,684.2Q1209.5,699.2 1218.8,730.3 M1178.3,744.9Q1181.8,775.8 1191.7,786.9 M1163.2,654.4Q1162.3,665.0 1166.5,667.3 M1187.1,785.3Q1178.8,796.3 1153.5,799.1 M1099.8,701.0Q1099.9,715.7 1116.4,713.7 M1191.4,679.2Q1191.5,682.2 1182.8,698.3 M1287.2,800.6Q1292.2,797.1 1295.0,812.5 M1282.2,691.3Q1301.1,690.2 1320.7,705.1 M1149.9,650.9Q1155.9,662.4 1151.9,670.4 M1177.1,754.4Q1183.3,762.2 1194.6,774.7 M1177.1,779.2Q1181.9,801.7 1170.9,825.5 M1280.8,777.8Q1277.9,780.6 1270.2,788.4 M1244.8,774.5Q1230.9,781.4 1200.0,792.8 M1084.8,662.0Q1070.8,667.6 1072.1,678.6 M1153.0,767.8Q1153.1,784.9 1155.2,786.5 M1176.6,673.9Q1181.1,675.5 1182.7,685.3 M1256.9,691.7Q1253.8,699.1 1252.5,707.2 M1113.7,732.2Q1133.4,753.6 1150.6,761.6 M1106.2,770.8Q1125.0,779.9 1146.5,798.5 M1132.5,688.1Q1144.3,705.2 1142.8,703.1 M1111.8,752.4Q1105.1,765.3 1098.1,777.7 M1177.5,776.3Q1161.3,785.3 1163.4,797.8 M1140.9,678.9Q1146.0,695.0 1150.2,722.0 M1118.6,746.1Q1110.3,754.2 1091.6,775.2 M1110.1,757.2Q1121.6,756.7 1145.4,763.9 M1082.2,760.8Q1105.7,761.1 1128.5,767.4 M1142.0,752.3Q1138.0,774.1 1150.4,799.5 M1247.9,671.3Q1262.3,678.1 1257.3,703.4 M1234.5,742.0Q1242.1,770.3 1255.4,781.4 M1293.1,661.4Q1308.8,687.5 1308.0,702.3 M1271.0,742.2Q1257.0,755.2 1251.3,783.9 M1240.8,721.4Q1227.4,715.2 1224.2,725.4 M1216.2,676.9Q1214.7,697.6 1211.1,700.2 M1084.3,798.2Q1087.9,819.4 1086.1,842.0 M1132.4,721.1Q1131.3,725.2 1146.4,742.2 M1140.1,724.4Q1139.7,735.8 1154.4,731.9 M1199.2,686.4Q1208.8,693.8 1211.7,702.8 M1167.3,801.7Q1152.5,813.2 1133.8,820.5 M1088.0,805.3Q1084.4,810.2 1086.2,819.1 M1264.5,764.5Q1248.3,783.8 1239.3,807.1 M1203.4,702.0Q1213.4,705.1 1216.1,714.1 M1271.5,756.1Q1264.6,759.1 1264.8,774.0 M1227.2,686.1Q1224.8,710.0 1226.5,714.1 M1179.8,657.5Q1181.0,657.1 1167.5,651.8 M1281.9,749.8Q1292.5,757.8 1290.8,784.5 M1102.1,669.5Q1090.8,672.2 1095.1,681.0 M1116.7,659.7Q1124.0,691.9 1114.4,708.0 M1098.6,744.4Q1095.7,764.4 1077.5,767.8 M1207.0,693.9Q1218.4,708.5 1220.2,731.6 M1179.9,761.2Q1175.1,785.3 1175.6,793.7 M1146.8,726.5Q1123.1,739.2 1118.1,758.6 M1121.5,737.3Q1098.9,763.8 1089.8,772.1 M1151.3,702.1Q1160.4,707.4 1154.4,724.1 M1092.5,653.5Q1106.1,660.9 1113.3,667.7 M1263.6,706.7Q1270.5,735.9 1276.6,745.5 M1229.1,799.4Q1230.3,806.6 1243.3,809.3 M1140.9,784.2Q1143.9,799.3 1132.6,797.5 M1299.0,693.0Q1310.1,699.6 1324.7,722.0 M1170.3,738.0Q1174.0,753.7 1181.8,749.7 M1112.9,786.0Q1121.5,797.8 1116.0,801.9 M1143.4,706.4Q1133.0,714.9 1121.6,719.6 M1222.6,651.1Q1219.4,665.0 1224.2,677.5 M1256.6,719.7Q1261.4,717.7 1276.8,702.8 M1152.6,805.0Q1167.2,823.9 1162.9,827.1 M1290.3,654.1Q1302.0,660.3 1297.8,674.5 M1198.0,700.0Q1214.6,716.7 1222.0,736.1 M1182.1,656.5Q1191.1,662.8 1201.9,688.6 M1095.0,686.7Q1116.0,693.2 1119.9,713.6 M1121.4,717.4Q1120.5,737.5 1108.9,741.6 M1209.2,760.7Q1206.7,765.0 1209.4,786.4 M1148.3,678.1Q1150.2,692.4 1160.3,713.0 M1285.8,731.4Q1278.3,733.6 1258.2,747.5 M1276.5,716.0Q1279.1,715.1 1279.2,730.0 M1205.4,751.0Q1196.6,761.3 1207.8,763.2 M1201.6,796.7Q1205.9,792.8 1226.2,808.2 M1086.5,678.0Q1091.8,700.7 1081.3,722.8 M1111.6,681.8Q1118.8,692.1 1140.3,701.7 M1192.1,654.6Q1176.1,652.5 1161.5,653.2 M1256.1,754.0Q1243.5,759.6 1227.8,779.4 M1132.4,694.1Q1122.2,696.8 1094.1,716.9 M1122.2,749.8Q1115.2,754.0 1119.4,762.3 M1248.1,657.0Q1236.2,667.6 1237.9,674.8 M1118.2,651.0Q1113.1,671.4 1109.9,695.2 M1135.4,791.9Q1133.8,811.7 1125.1,828.2 M1171.0,713.8Q1162.1,740.7 1172.4,752.8 M1099.2,677.2Q1098.7,697.2 1102.3,722.6 M1153.7,789.4Q1155.9,811.0 1152.1,814.2 M1172.9,796.1Q1179.4,806.2 1192.1,818.8 M1141.4,654.0Q1141.4,667.3 1151.8,695.3 M1123.2,737.2Q1125.8,746.5 1116.6,766.2 M1160.9,684.6Q1174.5,694.5 1182.9,701.1 M1145.4,726.2Q1146.6,753.3 1130.1,760.6 M1211.1,720.5Q1187.3,722.2 1162.0,727.8 M1192.2,670.1Q1199.2,682.5 1192.2,685.6 M1248.3,654.6Q1258.9,653.3 1283.8,671.4 M1236.4,761.1Q1243.3,762.0 1234.7,780.2 M1281.0,778.8Q1285.3,800.7 1301.9,813.9 M1099.3,696.2Q1102.4,707.6 1091.6,720.5 M1218.2,750.6Q1241.2,761.4 1246.7,785.1 M1160.6,777.9Q1168.3,782.6 1167.7,788.7 M1300.0,714.1Q1315.1,711.8 1346.3,717.8 M1139.6,747.4Q1138.8,759.4 1133.7,774.2 M1246.5,675.0Q1229.7,686.5 1210.7,692.9 M1287.1,740.3Q1293.7,759.5 1283.2,771.9 M1206.6,799.7Q1205.6,808.0 1194.1,810.2 M1278.2,790.0Q1302.4,794.1 1319.4,816.7 M1150.1,774.3Q1165.3,783.1 1164.1,795.2 M1243.7,809.7Q1246.8,833.5 1256.0,839.2 M1177.4,704.4Q1186.5,725.8 1188.1,733.7 M1217.7,731.4Q1228.9,755.3 1226.2,768.0 M1187.7,680.3Q1204.8,703.1 1208.9,723.5 M1118.4,676.2Q1126.5,680.4 1116.1,698.0 M1156.4,664.8Q1158.4,684.1 1175.0,695.8 M1187.0,727.2Q1180.1,749.2 1187.9,765.5 M1233.6,671.3Q1236.8,685.5 1236.6,710.1 M1218.5,668.9Q1230.4,678.1 1256.2,668.2 M1264.7,715.0Q1261.3,712.0 1250.3,728.6 M1187.1,656.9Q1179.3,673.3 1179.2,671.1 M1115.5,721.2Q1117.7,737.9 1128.2,752.3 M1090.0,725.0Q1071.4,743.0 1059.5,751.4 M1138.2,753.2Q1140.6,782.9 1143.5,801.3 M1150.8,707.5Q1146.7,726.8 1133.3,738.2 M1223.7,662.5Q1207.6,679.5 1210.5,700.7 M1111.9,708.9Q1097.7,715.4 1076.2,737.8 M1238.1,699.7Q1239.5,719.9 1245.8,734.3 M1158.4,686.8Q1133.9,687.9 1119.2,706.6 M1103.6,778.4Q1091.1,783.4 1058.7,792.2 M1091.1,684.6Q1115.1,699.0 1135.0,708.3 M1111.2,686.4Q1109.3,691.7 1102.0,701.0 M1295.4,786.1Q1292.5,799.7 1308.4,808.8 M1263.4,731.8Q1254.2,731.6 1262.2,749.2 M1236.4,792.5Q1227.7,821.1 1231.9,840.6 M1163.3,650.7Q1166.0,673.3 1161.7,693.2 M1183.1,736.8Q1197.1,741.3 1206.1,759.6 M1168.3,747.5Q1175.1,759.4 1169.6,762.5 M1152.9,755.3Q1164.6,757.9 1170.1,774.9 M1270.4,734.9Q1282.9,746.5 1281.4,769.2 M1242.7,760.6Q1242.3,771.5 1224.2,788.0 M1132.9,720.6Q1119.6,737.7 1117.3,736.1 M1124.6,770.0Q1113.7,791.1 1115.3,805.5 M1236.0,686.3Q1222.3,692.7 1207.0,691.1 M1241.8,795.5Q1266.2,792.5 1278.6,804.2 M1190.7,731.2Q1212.0,751.8 1215.4,767.4 M1291.3,732.4Q1315.2,733.6 1320.5,747.1 M1184.5,664.9Q1183.2,675.6 1177.2,690.0 M1090.4,656.7Q1090.6,661.9 1106.0,681.7 M1279.9,664.0Q1298.1,651.0 1328.3,653.4 M1240.2,706.7Q1262.4,709.1 1275.2,731.0 M1136.2,688.3Q1122.9,693.0 1108.6,703.5 M1187.6,780.6Q1194.7,782.5 1197.7,802.9 M1280.3,688.8Q1277.4,690.0 1266.7,710.4 M1297.5,720.4Q1291.1,720.6 1294.3,734.8 M1284.8,789.8Q1305.5,804.1 1312.7,814.8 M1135.1,809.6Q1124.9,833.9 1133.8,838.4 M1187.2,727.4Q1197.6,724.4 1194.5,738.4 M1216.5,753.1Q1242.8,761.7 1261.4,772.3 M1130.4,803.3Q1139.5,814.3 1154.2,824.2 M1148.5,670.9Q1160.7,687.7 1163.9,711.2 M1183.0,800.0Q1184.0,810.8 1191.6,822.4 M1129.9,689.8Q1122.4,696.0 1105.8,716.6 M1164.6,660.2Q1178.1,680.3 1197.3,697.5 M1208.6,672.3Q1212.1,686.2 1231.9,712.2 M1173.8,741.5Q1187.5,747.3 1189.5,741.3 M1132.4,777.5Q1124.8,798.6 1123.5,825.3 M1267.7,689.2Q1267.0,707.9 1257.6,733.3 M1234.9,757.5Q1229.9,772.4 1209.1,774.9 M1299.3,674.1Q1314.6,683.9 1314.5,686.8 M1169.1,713.4Q1157.9,734.4 1160.9,746.7 M1135.5,741.5Q1163.1,730.4 1172.1,736.4 M1121.9,798.0Q1127.9,818.2 1135.1,819.6 M1231.9,765.4Q1246.1,784.1 1246.9,810.0 M1118.6,793.6Q1130.0,790.3 1152.1,806.3 M1090.5,721.7Q1094.3,743.2 1106.8,764.6 M1101.9,688.7Q1090.9,701.5 1096.9,701.6 M1206.6,765.0Q1201.2,773.9 1204.9,777.1 M1083.3,701.7Q1060.2,719.3 1056.1,737.4 M1214.2,778.1Q1220.4,793.2 1212.0,796.6 M1099.2,748.0Q1103.2,768.2 1089.6,773.5 M1085.7,700.7Q1096.9,688.2 1115.5,679.1 M1236.2,783.6Q1236.0,800.4 1234.6,803.5 M1158.7,707.9Q1160.8,727.6 1155.7,732.8 M1113.8,807.0Q1128.3,822.3 1130.2,838.5 M1087.0,753.6Q1092.4,775.5 1095.9,789.2 M1203.0,707.8Q1210.2,708.8 1215.1,725.8 M1258.0,806.3Q1261.6,813.1 1260.0,823.9 M1295.4,799.9Q1293.9,821.2 1304.2,831.4 M1137.0,747.0Q1150.4,773.7 1147.7,785.5 M1268.3,774.7Q1279.4,796.9 1292.9,804.8 M1126.9,796.0Q1127.5,813.2 1132.6,841.9 M1253.8,654.2Q1263.5,679.0 1256.8,696.8 M1157.2,686.5Q1166.8,697.1 1160.1,712.6 M1224.6,787.7Q1216.5,804.0 1218.7,826.2 M1151.7,718.1Q1159.0,729.4 1151.1,740.7 M1295.9,776.5Q1325.3,766.0 1336.6,770.0 M1146.0,664.1Q1152.0,665.0 1143.0,675.9 M1150.3,747.6Q1152.6,760.8 1143.7,759.9 M1241.8,657.4Q1243.5,676.6 1247.5,698.4 M1110.8,799.8Q1123.6,800.1 1119.9,815.1 M1146.6,730.4Q1163.6,733.8 1170.6,738.5 M1167.4,716.3Q1172.8,734.6 1184.7,737.1 M1208.8,682.2Q1212.7,686.5 1236.0,705.5 M1210.9,742.0Q1221.4,739.7 1216.1,754.8 M1104.3,803.1Q1127.1,803.2 1148.9,823.2 M1129.3,736.5Q1144.5,763.3 1158.6,776.6 M1290.6,662.4Q1313.4,690.5 1322.1,699.8 M1129.3,661.6Q1139.0,666.6 1130.1,683.8 M1090.5,776.3Q1088.9,796.7 1096.6,824.1 M1089.1,722.6Q1100.8,741.2 1092.8,749.9 M1139.1,717.5Q1126.8,723.4 1119.2,743.2 M1247.4,791.1Q1233.0,806.7 1229.1,822.2 M1297.5,761.0Q1327.2,768.7 1337.2,763.3 M1226.0,663.9Q1226.9,684.5 1231.5,702.7 M1230.7,720.8Q1232.3,740.9 1235.7,757.8 M1184.2,753.6Q1192.0,772.9 1204.6,779.1 M1254.1,789.1Q1243.8,811.3 1250.9,814.4 M1138.6,755.5Q1139.1,785.0 1133.0,797.5 M1248.4,692.0Q1261.1,710.2 1259.6,734.5 M1209.7,741.3Q1201.4,755.0 1198.5,780.5 M1117.2,708.5Q1110.3,730.6 1117.2,746.1 M1119.1,801.6Q1101.0,817.0 1090.1,838.0 M1270.0,718.5Q1284.5,725.0 1290.9,736.5 M1160.3,756.1Q1166.7,766.9 1182.1,786.1 M1178.2,667.9Q1184.4,679.4 1181.4,703.9 M1193.8,650.9Q1185.9,666.8 1173.1,681.7 M1256.3,690.5Q1236.5,699.0 1236.7,717.1 M1209.9,699.0Q1216.1,697.4 1231.6,698.2 M1195.5,728.9Q1191.5,745.0 1202.4,742.7 M1143.9,775.0Q1123.4,786.6 1121.1,788.1 M1293.4,719.0Q1298.0,728.5 1312.3,748.5 M1266.9,670.7Q1290.7,663.1 1311.2,672.9 M1124.7,787.6Q1131.0,786.8 1139.5,790.2 M1171.2,799.7Q1178.4,813.9 1183.1,810.6 M1234.2,719.8Q1249.2,723.7 1277.1,745.0 M1167.5,671.6Q1161.5,682.9 1167.4,692.5 M1283.7,697.0Q1282.7,708.4 1286.2,721.5 M1099.8,785.7Q1108.6,795.3 1103.5,816.3 M1179.9,781.8Q1177.2,798.9 1181.1,801.4 M1201.1,769.7Q1189.0,785.6 1194.9,796.4 M1150.5,680.4Q1152.5,704.4 1167.1,726.9 M1194.4,663.9Q1200.9,679.5 1211.6,679.7 M1229.8,699.1Q1220.2,705.7 1215.4,714.9 M1198.7,698.8Q1201.1,719.2 1186.2,733.4 M1236.2,672.6Q1224.3,693.8 1218.8,716.6 M1235.5,756.2Q1244.6,770.0 1235.7,770.8 M1087.8,685.2Q1083.2,693.6 1090.6,713.7 M1294.1,747.7Q1296.5,746.6 1310.8,758.3 M1268.8,669.9Q1271.0,682.9 1258.1,683.4 M1189.4,652.3Q1185.8,665.6 1193.4,670.1 M1244.7,778.3Q1253.0,789.6 1274.9,789.8 M1237.4,732.6Q1232.0,733.9 1244.7,746.2 M1263.4,763.0Q1260.3,784.7 1260.3,791.6 M1283.2,671.3Q1282.1,695.8 1266.0,708.3 M1235.5,765.1Q1223.1,775.2 1220.4,783.4 M1127.2,801.3Q1130.4,818.0 1140.5,848.5 M1144.0,754.8Q1146.7,764.9 1161.4,789.0 M1120.5,703.3Q1125.8,710.0 1124.8,728.3 M1224.3,733.9Q1223.2,731.6 1222.5,748.5 M1251.9,792.3Q1243.3,804.3 1242.5,812.9 M1246.4,682.2Q1255.6,701.9 1254.1,711.1 M1278.9,742.6Q1271.3,744.0 1283.7,757.7 M1113.5,698.0Q1103.0,703.1 1098.5,708.9 M1152.5,708.2Q1138.0,717.2 1114.5,727.9 M1244.3,668.1Q1235.1,664.4 1230.1,679.3 M1088.7,742.7Q1107.1,741.8 1111.9,757.9 M1240.1,767.5Q1236.1,769.9 1225.5,788.6 M1081.1,753.2Q1069.7,758.3 1074.0,773.9 M1113.7,693.3Q1118.6,702.1 1130.6,721.1 M1205.0,656.7Q1207.0,677.8 1206.7,679.4 M1279.8,766.3Q1259.0,754.0 1248.6,757.9 M1103.3,658.6Q1105.2,659.9 1097.3,677.7 M1117.7,784.6Q1138.7,797.8 1162.8,806.0 M1104.1,741.2Q1091.7,753.7 1089.5,755.2 M1192.8,781.1Q1169.4,793.4 1163.0,812.3 M1101.6,684.4Q1092.5,701.3 1100.0,707.9 M1210.2,679.2Q1224.2,695.8 1220.9,700.8 M1087.1,776.2Q1088.4,789.5 1077.7,792.0 M1124.8,798.0Q1116.4,803.6 1099.7,826.6 M1080.6,790.9Q1062.5,800.7 1061.6,806.4 M1093.8,788.7Q1089.6,793.7 1090.8,802.3 M1223.2,805.4Q1242.8,811.3 1251.5,817.3 M1137.0,761.0Q1135.4,769.5 1151.7,779.4 M1253.5,758.8Q1255.5,775.9 1240.1,792.6 M1244.6,745.0Q1236.2,751.2 1222.6,774.6 M1252.3,778.4Q1254.0,790.2 1252.2,799.5 M1273.1,742.0Q1304.4,735.8 1320.2,747.5 M1226.0,713.2Q1233.4,729.9 1245.7,728.6 M1130.2,757.5Q1150.3,778.3 1163.8,782.9 M1173.9,698.8Q1188.9,721.1 1188.9,744.5 M1170.4,697.9Q1164.1,694.5 1155.9,707.8 M1166.7,724.6Q1145.1,751.9 1136.0,763.7 M1169.6,736.1Q1162.5,749.1 1166.7,757.1 M1162.6,793.4Q1160.4,798.2 1171.4,808.8 M1259.5,791.1Q1245.5,809.5 1239.2,835.2 M1272.8,776.5Q1292.9,776.5 1317.5,796.0 M1267.8,666.6Q1277.5,676.2 1284.7,679.6 M1242.0,758.2Q1226.3,758.0 1204.0,772.3 M1245.7,690.5Q1247.7,701.0 1249.0,718.1 M1138.6,697.3Q1154.8,721.0 1153.5,732.4 M1093.1,754.7Q1083.2,752.0 1065.6,768.5 M1272.5,792.1Q1266.7,795.4 1260.4,812.6 M1213.6,723.4Q1201.8,734.7 1190.7,765.7 M1286.0,693.4Q1286.6,699.5 1267.3,718.5 M1209.7,807.1Q1186.6,813.0 1173.9,807.9 M1085.7,737.7Q1094.7,760.8 1098.2,784.2 M1294.4,707.6Q1286.9,737.1 1286.4,753.3 M1189.1,657.7Q1205.0,649.1 1208.7,658.0 M1147.8,733.3Q1161.9,753.0 1159.7,769.2 M1293.7,774.3Q1309.1,782.1 1308.7,790.9 M1216.6,798.5Q1209.6,804.3 1195.4,815.7 M1150.3,776.9Q1161.1,799.0 1167.0,821.1 M1169.8,675.6Q1159.3,694.1 1166.9,721.4 M1197.8,755.8Q1192.5,766.9 1191.4,769.3 M1167.0,779.8Q1172.5,796.7 1193.2,815.6 M1082.6,735.2Q1083.3,761.8 1089.7,769.3 M1274.9,790.1Q1281.4,803.1 1283.8,803.0 M1263.6,763.9Q1264.3,777.3 1256.1,781.0 M1105.9,714.6Q1115.9,743.0 1114.3,757.8 M1168.0,730.0Q1174.6,748.6 1195.4,757.8 M1171.0,798.4Q1154.2,805.3 1149.0,804.9 M1283.4,660.7Q1273.4,660.8 1266.0,672.4 M1240.3,775.6Q1247.0,787.2 1239.6,813.4 M1128.9,785.9Q1119.2,806.7 1128.3,808.7 M1284.7,711.0Q1283.3,729.1 1276.0,732.2 M1164.6,793.4Q1170.0,812.2 1175.0,826.8 M1278.9,699.5Q1292.4,711.3 1303.2,707.5 M1097.3,653.7Q1100.6,675.3 1115.2,698.5 M1248.1,721.5Q1258.3,738.9 1249.4,752.6 M1211.0,655.2Q1218.0,674.3 1233.2,675.9 M1292.2,734.9Q1295.4,751.5 1296.3,755.3 M1142.0,805.8Q1144.3,817.2 1159.7,816.1 M1139.0,709.9Q1147.2,722.2 1164.4,750.9 M1104.7,712.4Q1099.8,717.4 1079.6,740.1 M1161.7,735.0Q1160.7,755.9 1169.7,771.2 M1206.6,719.0Q1182.7,722.3 1171.2,720.9 M1104.6,676.5Q1102.1,704.0 1116.6,715.6 M1083.6,774.4Q1071.4,799.2 1071.0,813.8 M1264.4,697.4Q1274.3,709.8 1303.3,712.7 M1214.9,652.5Q1227.7,676.9 1234.9,691.4 M1198.3,739.2Q1189.2,750.1 1177.5,768.4 M1158.0,666.8Q1149.7,685.1 1160.2,694.8 M1250.0,704.9Q1267.6,721.7 1290.7,723.2 M1186.9,663.2Q1204.2,691.9 1202.5,706.6 M1196.2,690.2Q1186.2,704.7 1182.0,712.9 M1286.3,680.9Q1295.6,700.8 1293.9,711.7 M1115.4,793.4Q1094.2,788.7 1087.5,799.5 M1240.1,735.0Q1207.9,745.9 1192.3,745.6 M1124.9,741.7Q1126.6,761.1 1113.9,787.1 M1203.1,723.9Q1196.0,727.0 1200.8,735.9 M1273.7,665.7Q1305.3,663.5 1319.0,663.8 M1205.9,797.3Q1219.7,817.9 1230.8,829.7 M1269.6,677.0Q1295.2,687.7 1306.3,678.7 M1237.7,725.1Q1232.0,728.8 1226.5,737.2 M1233.9,778.0Q1238.7,796.9 1263.4,813.1 M1243.9,685.9Q1252.9,690.4 1245.6,707.0 M1080.2,724.6Q1101.1,740.3 1104.3,737.5 M1250.6,657.1Q1252.5,664.8 1272.7,673.8 M1185.3,803.0Q1199.8,814.2 1199.0,841.5 M1111.5,734.7Q1128.1,746.1 1126.4,762.3 M1273.4,661.5Q1279.1,659.2 1279.0,673.4 M1203.6,748.0Q1202.1,769.2 1194.3,785.7 M1180.6,757.3Q1187.8,761.4 1206.6,778.0 M1191.5,784.0Q1189.0,812.7 1179.7,822.1 M1214.8,663.8Q1203.9,662.2 1186.0,677.1 M1132.6,791.0Q1125.2,797.6 1125.4,812.3 M1188.7,742.2Q1183.0,746.1 1189.5,766.9 M1089.6,759.3Q1098.5,781.0 1088.1,785.9 M1206.4,683.7Q1221.5,693.1 1226.6,719.2 M1084.7,659.4Q1094.2,673.9 1087.2,676.4 M1092.1,749.0Q1097.5,746.9 1112.8,759.3 M1253.3,785.4Q1240.5,801.1 1241.3,799.0 M1224.3,725.7Q1227.0,748.4 1219.7,761.1 M1151.7,778.6Q1142.6,783.2 1131.7,793.5 M1259.5,650.3Q1252.7,667.7 1256.4,691.5 M1097.4,675.8Q1080.3,669.1 1069.6,679.8 M1106.8,723.3Q1094.7,736.1 1100.5,742.3" stroke="#8497b8" stroke-width="0.9" fill="none" opacity="0.85"/>
<path d="M1133.9,796.8Q1108.8,825.3 1078.5,848.0 M1128.0,770.8Q1147.5,807.8 1158.5,847.5 M1106.0,801.6Q1127.8,809.9 1131.6,826.7 M1166.0,704.7Q1184.7,746.5 1219.8,773.6 M1221.1,748.9Q1223.3,753.5 1242.7,775.4 M1166.0,662.5Q1197.7,672.8 1227.9,700.2 M1096.4,739.2Q1109.3,776.2 1107.2,796.3 M1179.0,794.0Q1195.1,807.9 1215.4,814.0 M1118.1,808.3Q1090.4,815.5 1069.8,834.5 M1165.4,775.5Q1173.2,780.7 1192.8,791.9 M1153.8,750.0Q1156.9,768.4 1148.8,780.4 M1148.6,692.1Q1151.6,712.4 1155.3,719.3 M1092.6,690.6Q1077.7,695.7 1070.9,710.0 M1284.8,799.8Q1273.5,814.1 1260.6,841.4 M1161.3,767.9Q1179.1,808.6 1182.1,832.8 M1116.5,771.7Q1093.3,815.2 1088.8,852.7 M1275.1,772.0Q1256.6,801.4 1247.7,850.4 M1101.9,710.4Q1108.1,732.0 1123.0,754.6 M1187.2,667.6Q1205.7,693.5 1224.8,702.5 M1280.2,718.1Q1278.2,727.3 1288.6,745.8 M1177.7,688.3Q1181.3,711.4 1185.5,745.8 M1214.5,810.0Q1202.7,842.8 1195.9,893.3 M1175.0,659.0Q1184.7,672.9 1210.4,687.7 M1183.1,801.4Q1180.3,845.3 1192.2,876.9 M1218.8,665.7Q1226.6,679.4 1226.2,694.2 M1136.6,731.5Q1111.2,748.4 1073.2,749.2 M1221.6,759.9Q1192.0,771.0 1155.9,796.5 M1160.2,712.0Q1147.7,743.2 1142.3,792.7 M1268.7,755.0Q1276.0,769.6 1285.0,775.3 M1178.9,786.0Q1206.0,805.6 1214.1,811.5 M1147.0,700.2Q1139.1,710.7 1144.7,726.8 M1186.5,660.5Q1187.2,689.2 1173.7,708.1 M1228.0,684.0Q1213.2,715.2 1206.0,735.0 M1139.6,806.0Q1140.2,835.2 1159.6,877.4 M1170.9,763.4Q1196.2,764.5 1208.1,779.3 M1258.6,747.1Q1273.8,768.8 1287.2,795.1 M1137.4,739.9Q1152.3,774.4 1147.2,823.5 M1150.7,770.5Q1136.6,775.0 1125.7,796.3 M1260.3,776.4Q1253.7,801.0 1261.0,815.9 M1292.9,763.9Q1278.7,779.1 1267.1,781.4 M1292.8,794.6Q1269.1,793.8 1259.9,810.0 M1162.9,698.0Q1149.6,728.9 1128.0,756.5 M1178.2,729.9Q1200.6,742.0 1222.1,751.7 M1175.9,744.7Q1178.0,772.2 1184.8,785.3 M1290.4,753.0Q1317.7,756.4 1332.2,751.9 M1092.6,759.2Q1073.0,778.3 1060.2,780.6 M1177.9,704.4Q1171.9,742.0 1167.4,786.6 M1293.7,806.5Q1317.8,802.8 1323.1,797.4 M1168.2,671.4Q1166.3,706.8 1169.1,742.5 M1160.3,809.6Q1189.9,826.9 1204.3,859.6 M1192.2,791.5Q1211.3,807.4 1232.3,829.9 M1199.4,705.2Q1220.2,739.4 1248.4,761.1 M1232.5,758.2Q1232.7,770.2 1227.8,790.5 M1201.1,682.6Q1216.7,703.3 1228.7,713.1 M1161.2,786.0Q1164.2,803.5 1168.9,814.2 M1248.7,657.3Q1265.3,694.5 1278.1,735.3 M1203.3,654.6Q1192.0,662.0 1190.7,682.5 M1118.4,794.1Q1150.3,792.4 1192.8,809.8 M1098.1,664.2Q1091.2,674.3 1090.2,692.9 M1244.5,790.0Q1236.3,801.5 1211.0,822.4 M1138.4,660.1Q1130.0,651.1 1106.8,648.9 M1190.4,672.6Q1180.6,704.2 1151.3,723.7 M1245.3,784.2Q1248.4,786.8 1259.0,806.4 M1183.9,660.5Q1184.8,676.3 1173.9,693.9 M1183.1,780.3Q1205.3,785.5 1230.1,810.2 M1285.4,684.5Q1317.5,711.9 1351.2,729.3 M1190.3,733.5Q1183.3,753.5 1195.3,773.0 M1126.5,764.9Q1114.3,785.1 1114.4,818.0 M1297.0,809.3Q1291.7,819.8 1287.8,836.8 M1234.9,759.0Q1249.3,791.3 1251.5,827.6 M1195.0,699.0Q1189.3,715.7 1190.6,742.9 M1118.6,750.7Q1121.5,763.5 1143.2,783.4 M1252.7,764.9Q1229.2,776.3 1213.3,804.7 M1225.0,749.8Q1236.1,773.9 1264.5,785.8 M1193.0,721.9Q1174.3,735.4 1147.4,747.4 M1251.5,766.0Q1265.0,774.8 1296.5,773.0 M1099.3,797.6Q1064.3,812.4 1027.0,844.7 M1230.5,655.6Q1207.4,674.2 1170.1,686.4 M1155.0,733.2Q1136.3,750.9 1108.3,787.3 M1280.2,757.3Q1260.6,771.7 1233.0,793.5 M1260.1,746.6Q1277.4,773.2 1282.4,791.5 M1159.7,792.6Q1152.5,810.5 1143.1,844.8 M1287.5,800.4Q1283.9,826.3 1292.9,839.7 M1246.9,712.9Q1265.4,732.1 1272.3,741.4 M1281.4,728.6Q1250.0,760.5 1237.5,792.0 M1259.1,761.3Q1288.7,792.3 1313.7,830.8 M1240.5,785.8Q1236.7,793.3 1253.0,811.6 M1155.6,776.0Q1163.9,777.9 1190.7,798.3 M1299.5,686.5Q1321.4,723.6 1351.2,756.1 M1166.8,695.4Q1114.4,705.9 1081.6,709.3 M1246.4,773.2Q1288.2,766.6 1324.3,778.0 M1275.7,677.4Q1282.7,691.1 1297.4,704.6 M1151.7,719.9Q1162.0,746.0 1165.5,789.9 M1277.1,677.6Q1271.2,704.6 1254.3,717.4 M1290.0,789.7Q1335.2,798.5 1366.6,788.1 M1288.2,725.2Q1304.8,756.9 1311.4,775.1 M1240.5,707.7Q1234.5,737.1 1212.4,785.5 M1161.4,748.4Q1148.2,784.0 1153.0,805.1 M1220.8,699.8Q1250.6,726.2 1264.8,749.6 M1150.1,705.2Q1150.6,741.8 1141.6,784.3 M1281.2,746.0Q1265.4,735.9 1251.8,745.3 M1290.3,686.3Q1291.6,714.2 1291.1,724.9 M1224.9,788.1Q1240.6,802.1 1253.6,835.1 M1108.8,809.8Q1117.9,822.9 1135.4,835.4 M1243.9,666.2Q1237.3,688.9 1236.0,693.9 M1242.3,675.2Q1261.4,692.0 1297.5,712.1 M1152.0,808.7Q1182.9,787.0 1203.7,784.9 M1271.7,746.8Q1283.1,779.1 1281.3,795.4 M1116.1,652.8Q1130.3,653.8 1141.7,672.6 M1092.2,730.8Q1138.8,748.5 1171.3,757.7 M1236.8,684.4Q1237.8,700.9 1252.7,719.9 M1086.7,671.8Q1085.2,701.1 1079.6,741.1 M1127.6,750.6Q1099.5,757.2 1055.2,777.2 M1252.2,736.2Q1250.3,749.0 1235.4,772.6 M1118.5,789.6Q1102.8,797.5 1088.7,801.7 M1127.5,783.8Q1132.4,809.4 1136.9,835.5 M1080.4,789.1Q1051.5,799.8 1026.1,817.7 M1117.8,684.6Q1143.8,700.6 1173.4,707.7 M1299.2,686.4Q1283.1,712.8 1274.6,733.7 M1178.0,672.8Q1186.1,696.3 1209.2,727.9 M1171.9,784.4Q1164.1,812.4 1165.3,839.8 M1183.8,731.4Q1202.6,744.1 1232.1,762.6 M1164.4,661.1Q1148.9,680.9 1125.3,687.0 M1222.0,724.4Q1196.8,745.1 1169.7,784.0 M1252.6,726.3Q1293.6,741.8 1316.5,752.5 M1114.4,754.4Q1106.9,794.8 1119.3,827.8 M1217.8,758.5Q1228.1,791.2 1249.6,811.9 M1114.4,738.3Q1097.1,762.1 1088.4,800.4 M1279.0,806.1Q1297.2,820.7 1324.5,834.5 M1084.4,737.8Q1111.0,770.1 1144.6,784.9 M1105.6,690.7Q1123.3,726.3 1160.4,749.9 M1094.8,779.7Q1104.0,814.4 1132.8,833.4 M1143.3,729.2Q1128.2,745.6 1124.6,752.5 M1110.9,699.8Q1114.9,711.1 1121.5,737.6 M1293.7,795.1Q1293.4,829.4 1274.1,852.7 M1112.7,784.0Q1109.1,801.9 1105.6,810.7 M1172.9,750.7Q1170.9,758.9 1176.9,783.7 M1115.3,656.2Q1129.4,670.4 1135.7,697.8 M1181.9,667.1Q1166.1,701.5 1162.4,751.1 M1268.5,702.0Q1251.5,722.0 1236.6,742.5 M1085.4,757.7Q1076.4,799.0 1055.7,835.3 M1224.2,721.3Q1240.8,758.5 1241.3,784.4 M1200.4,791.5Q1193.5,803.9 1181.3,809.9 M1192.5,673.6Q1197.2,688.0 1190.5,701.7 M1189.3,760.1Q1181.5,787.9 1156.9,807.7 M1286.5,785.1Q1271.6,794.0 1248.5,815.3 M1163.7,756.0Q1186.4,777.7 1189.9,813.0 M1276.9,680.5Q1240.9,716.9 1216.4,746.6 M1215.2,650.7Q1234.8,684.5 1252.0,706.4 M1154.1,741.8Q1172.7,777.7 1173.2,799.2 M1297.5,728.7Q1286.3,753.3 1291.7,781.2 M1144.7,731.2Q1141.9,767.7 1159.0,800.6 M1109.4,710.2Q1099.3,736.3 1073.8,749.9 M1097.9,721.8Q1104.7,747.0 1130.1,758.7 M1145.8,660.4Q1147.3,679.6 1148.4,698.7 M1195.9,773.0Q1165.1,777.7 1128.3,791.2 M1221.5,700.8Q1232.2,746.4 1261.1,778.6 M1258.5,697.2Q1293.8,717.7 1314.4,728.6 M1286.3,706.3Q1270.2,718.5 1254.0,732.9 M1085.6,663.1Q1128.8,671.5 1156.6,691.4 M1212.2,790.2Q1193.7,833.4 1171.0,858.3 M1221.9,771.3Q1218.8,798.4 1202.1,835.2 M1116.1,795.0Q1106.5,805.4 1106.4,833.4 M1115.4,809.5Q1103.1,803.2 1071.1,814.4 M1164.3,749.9Q1151.0,768.9 1139.0,795.4 M1093.3,711.4Q1096.4,745.5 1100.3,778.4 M1123.1,691.4Q1139.3,721.0 1139.9,733.9 M1277.8,725.1Q1281.1,759.9 1282.0,810.7 M1189.4,805.9Q1192.0,812.9 1199.4,835.4 M1293.4,729.8Q1277.6,749.2 1268.7,765.5 M1119.2,773.3Q1133.0,811.7 1148.6,855.4 M1251.2,800.1Q1226.7,834.2 1203.0,851.2 M1123.5,803.3Q1121.7,817.3 1132.3,839.5 M1236.1,763.5Q1246.9,786.7 1260.7,821.6 M1095.6,732.4Q1100.1,744.1 1120.2,764.4 M1102.2,680.9Q1133.0,691.3 1157.2,711.0 M1294.5,664.0Q1305.2,694.4 1315.4,730.9 M1236.2,735.2Q1219.3,745.1 1199.5,735.5 M1279.4,685.9Q1281.2,726.4 1273.5,748.6 M1228.5,711.5Q1202.8,755.1 1196.1,794.9 M1233.5,717.9Q1211.9,746.5 1193.3,760.3 M1084.9,654.4Q1097.4,657.6 1112.9,659.5 M1164.7,709.5Q1173.3,751.2 1187.0,791.2 M1115.8,674.3Q1116.9,682.1 1106.2,705.0 M1148.0,740.7Q1134.8,765.9 1111.6,782.0 M1132.0,672.5Q1101.7,717.8 1091.2,747.3 M1158.6,773.8Q1145.3,787.7 1132.9,820.0 M1294.6,808.8Q1315.1,812.8 1316.0,827.2 M1088.3,798.0Q1086.4,831.8 1074.4,872.0 M1097.3,770.7Q1095.1,782.4 1081.7,796.1 M1230.9,677.5Q1247.2,685.9 1262.8,677.2 M1209.2,729.6Q1184.4,768.1 1150.2,796.8 M1260.1,776.4Q1261.2,795.4 1261.4,804.5 M1122.1,714.7Q1112.1,729.4 1113.8,753.7 M1179.9,688.4Q1202.8,700.7 1241.7,716.7 M1198.0,696.0Q1187.1,722.9 1186.4,743.3 M1152.6,656.1Q1158.3,651.8 1180.7,665.3 M1122.2,692.1Q1098.1,720.4 1078.6,741.4 M1135.7,665.9Q1106.4,685.3 1094.7,701.2 M1276.2,670.3Q1281.2,686.8 1288.7,696.9 M1085.5,679.6Q1055.9,685.2 1014.7,707.9 M1256.4,688.4Q1267.6,703.3 1260.8,727.5 M1117.5,782.8Q1132.6,783.3 1150.2,796.6 M1109.0,737.0Q1085.1,764.0 1071.8,774.8 M1225.0,691.7Q1206.3,693.0 1198.7,708.2 M1272.3,663.5Q1256.3,684.1 1236.8,690.9 M1244.8,739.4Q1221.1,778.3 1185.9,803.6 M1197.3,699.8Q1207.9,710.5 1209.5,736.1 M1158.0,739.5Q1121.3,747.1 1099.5,773.8 M1174.5,745.6Q1171.3,751.9 1176.4,773.4 M1218.2,721.3Q1245.8,751.3 1258.4,779.6 M1199.7,696.9Q1167.9,724.5 1154.9,761.9 M1150.5,759.1Q1156.5,785.7 1164.2,828.8 M1159.3,754.7Q1208.1,756.9 1237.7,761.8 M1241.7,690.9Q1241.3,719.3 1247.3,751.3 M1176.2,747.3Q1179.4,784.7 1167.8,829.7 M1254.9,704.5Q1282.3,710.5 1322.3,732.4 M1123.3,793.4Q1113.1,803.8 1117.6,820.6 M1172.4,803.3Q1177.1,824.9 1176.1,838.1 M1157.5,659.7Q1138.3,681.8 1129.2,722.5 M1118.1,658.6Q1132.5,686.1 1146.5,729.1 M1139.8,731.7Q1140.7,785.4 1122.1,819.6 M1166.2,679.7Q1158.7,688.0 1158.4,711.2 M1087.7,764.6Q1107.2,773.1 1123.5,778.6 M1131.0,665.7Q1137.9,690.1 1146.0,703.5 M1274.1,669.4Q1305.0,681.4 1335.4,679.5 M1099.8,723.6Q1105.2,758.6 1094.1,813.0 M1130.2,703.1Q1114.9,719.2 1093.5,738.4 M1153.4,688.5Q1166.8,712.8 1188.0,738.4 M1237.1,724.8Q1248.5,734.2 1253.3,745.0 M1211.8,678.0Q1232.6,720.9 1267.0,745.5 M1295.4,771.4Q1321.6,811.4 1330.2,836.3 M1148.3,789.4Q1146.1,821.2 1156.5,872.8 M1170.3,722.9Q1178.2,761.2 1192.3,804.7 M1236.9,666.0Q1245.5,680.9 1252.5,707.0 M1165.3,785.7Q1168.5,813.1 1169.4,849.7 M1247.5,748.9Q1264.4,775.0 1262.0,795.5 M1110.3,757.8Q1119.5,750.8 1142.3,762.9 M1277.6,685.6Q1270.1,665.7 1261.4,651.4 M1136.8,677.6Q1127.9,721.2 1132.4,748.2 M1259.3,659.3Q1278.0,660.2 1300.6,679.3 M1200.1,778.1Q1164.6,785.4 1146.5,805.6 M1121.0,779.8Q1158.7,801.9 1190.0,809.3 M1143.9,735.5Q1149.0,763.5 1144.8,807.0 M1140.2,698.2Q1127.2,736.0 1096.5,760.6 M1227.8,768.9Q1198.9,768.0 1184.9,752.9 M1188.6,738.0Q1174.4,783.0 1177.1,823.0 M1210.2,760.2Q1196.7,794.8 1197.2,817.0 M1095.4,794.9Q1085.0,818.9 1085.4,859.3 M1261.7,722.6Q1256.4,739.1 1263.8,763.1 M1219.5,746.5Q1190.2,788.0 1179.9,820.7 M1091.1,762.2Q1069.7,796.4 1056.2,821.3 M1099.2,682.8Q1063.5,697.1 1025.6,731.1 M1093.0,695.8Q1107.4,720.9 1103.8,739.5 M1186.5,746.1Q1168.3,778.0 1155.1,797.6 M1262.5,800.3Q1267.2,826.7 1281.1,835.0 M1192.3,671.3Q1192.3,692.7 1194.8,702.4 M1181.5,705.7Q1178.0,738.6 1169.5,760.9 M1255.3,763.3Q1273.7,798.7 1275.5,816.8 M1114.4,772.3Q1101.4,807.2 1101.0,823.2 M1126.1,801.6Q1144.0,826.3 1145.8,860.5 M1156.7,669.4Q1168.3,695.6 1176.2,708.1 M1149.5,779.2Q1125.8,814.8 1116.7,848.4 M1203.9,793.6Q1212.9,828.7 1235.1,856.9 M1101.0,805.3Q1133.0,832.4 1156.4,862.1 M1266.5,675.0Q1268.5,688.4 1254.7,709.2 M1221.8,719.4Q1230.7,748.6 1226.0,791.2 M1209.0,680.9Q1197.6,704.5 1186.8,744.1 M1295.7,789.4Q1321.1,791.2 1362.4,795.6 M1267.0,807.7Q1251.9,844.8 1233.1,864.3 M1117.8,705.5Q1071.9,722.6 1039.6,747.4 M1135.5,780.0Q1098.3,807.5 1078.7,832.1 M1277.5,681.6Q1266.5,714.3 1265.0,759.8 M1080.0,796.9Q1064.5,821.2 1059.2,830.5 M1171.0,770.7Q1161.2,806.3 1153.3,842.3 M1085.1,686.1Q1087.9,706.8 1098.3,732.0 M1223.3,735.4Q1225.3,772.7 1215.0,800.0 M1228.9,743.6Q1213.3,760.4 1187.5,786.3 M1262.2,794.9Q1253.4,817.7 1255.9,822.4 M1278.5,809.2Q1283.9,838.9 1304.6,861.1 M1277.8,718.9Q1255.4,736.5 1246.7,766.4 M1259.9,790.0Q1261.8,825.2 1258.2,843.1 M1111.4,712.9Q1101.2,733.4 1082.1,753.2 M1130.9,660.9Q1122.4,665.8 1130.6,689.0 M1145.0,777.3Q1150.4,802.5 1150.2,807.8 M1145.8,774.7Q1166.9,815.7 1179.8,852.1 M1220.1,768.4Q1211.7,793.6 1203.9,821.1 M1103.5,798.1Q1103.1,821.9 1114.8,846.5 M1236.6,710.6Q1270.6,736.7 1301.0,756.7 M1137.8,797.9Q1137.6,817.5 1141.8,832.6 M1159.5,746.5Q1162.0,759.9 1150.9,788.4 M1083.7,663.1Q1075.1,699.1 1059.9,723.5 M1280.4,720.4Q1277.4,759.0 1278.2,797.4 M1259.9,779.7Q1274.2,794.4 1276.5,825.5 M1086.0,730.6Q1111.7,741.2 1133.3,769.0 M1143.7,805.0Q1168.7,814.6 1190.3,831.6 M1292.2,740.1Q1261.2,751.6 1238.0,780.7 M1104.6,718.5Q1103.2,756.0 1113.2,780.1 M1269.8,758.4Q1272.0,767.7 1276.0,784.1 M1201.1,752.2Q1169.3,769.4 1153.8,785.9 M1154.9,709.0Q1163.0,722.4 1178.8,745.8 M1281.0,732.1Q1252.4,735.6 1219.7,749.4 M1175.5,724.4Q1130.3,732.2 1099.6,738.0 M1108.2,779.6Q1109.4,795.1 1120.4,802.5 M1159.3,760.4Q1150.8,770.5 1136.3,788.5 M1256.2,679.5Q1267.4,709.5 1277.5,742.8 M1277.1,803.3Q1295.1,816.4 1306.4,827.1 M1294.8,695.7Q1270.5,719.2 1250.3,746.9 M1165.9,672.5Q1175.8,688.0 1204.3,720.1 M1230.3,662.2Q1225.3,690.0 1233.5,723.4 M1251.9,792.7Q1281.1,826.0 1290.8,843.7 M1120.5,737.3Q1109.1,763.2 1114.3,773.3 M1196.6,726.5Q1187.9,750.3 1177.1,754.8 M1258.7,805.3Q1264.2,816.3 1286.5,839.1 M1282.2,801.9Q1280.6,834.1 1273.7,854.8 M1100.7,801.3Q1076.7,820.5 1063.0,836.0 M1181.6,717.1Q1180.3,735.0 1190.4,770.6 M1206.3,655.1Q1222.7,695.2 1228.5,731.7 M1218.3,743.9Q1205.9,765.5 1197.5,771.4 M1181.8,705.3Q1183.2,729.9 1201.1,735.1 M1252.9,756.2Q1256.2,777.1 1267.9,790.6 M1090.4,730.2Q1062.8,747.6 1053.7,775.0 M1243.6,800.9Q1245.1,826.3 1245.6,853.8 M1182.8,740.7Q1162.6,769.2 1134.9,810.7 M1104.9,768.9Q1108.7,789.0 1124.0,802.4 M1121.4,703.3Q1152.5,712.1 1184.2,739.0 M1264.3,780.2Q1244.7,798.5 1244.0,801.4 M1243.5,730.7Q1233.8,738.1 1234.8,760.0 M1091.0,715.7Q1096.1,745.4 1118.8,759.7 M1082.1,656.0Q1050.9,674.2 1022.6,703.6" stroke="#a9b9d4" stroke-width="1.0" fill="none" opacity="0.85"/>
<path d="M1297.1,654.3Q1257.7,691.8 1218.7,729.6 M1162.2,665.8Q1191.6,686.7 1228.4,689.3 M1218.2,715.5Q1179.3,734.5 1156.3,769.5 M1224.9,729.7Q1233.3,756.5 1241.6,802.4 M1241.0,725.1Q1238.2,755.4 1231.1,788.7 M1211.2,756.9Q1230.6,767.4 1251.1,761.9 M1157.3,725.0Q1115.5,750.6 1091.6,783.9 M1131.7,782.1Q1117.9,817.0 1088.7,839.9 M1225.2,718.9Q1187.5,754.0 1163.9,779.8 M1146.9,794.4Q1157.0,814.2 1175.5,827.3 M1112.5,763.6Q1131.9,784.4 1134.9,818.7 M1137.8,767.2Q1192.8,790.1 1238.1,804.3 M1295.5,773.2Q1317.9,814.9 1327.5,872.5 M1176.7,791.8Q1185.4,846.7 1208.0,903.6 M1265.7,803.9Q1278.8,835.5 1280.0,884.9 M1106.9,784.1Q1100.7,803.1 1081.1,814.8 M1244.4,702.2Q1210.1,738.2 1174.1,792.6 M1273.2,786.5Q1266.3,822.7 1249.3,859.5 M1264.2,669.3Q1261.8,691.0 1243.3,730.4 M1280.8,691.3Q1290.0,743.8 1311.9,798.8 M1194.8,779.1Q1166.2,771.6 1150.2,755.8 M1166.4,673.2Q1177.7,724.8 1191.2,764.0 M1213.1,679.4Q1230.5,692.1 1240.1,724.0 M1272.1,682.3Q1277.0,707.4 1301.7,739.6 M1243.0,797.2Q1265.0,823.6 1289.4,866.3 M1168.4,678.8Q1203.7,678.5 1221.6,698.0 M1280.0,714.2Q1276.7,735.2 1255.7,751.2 M1105.7,713.5Q1091.9,735.6 1074.7,760.2 M1156.3,722.6Q1192.3,753.1 1245.7,786.9 M1144.2,668.8Q1109.5,679.0 1077.0,701.8 M1272.6,777.3Q1273.0,790.7 1288.6,821.6 M1177.7,718.4Q1142.4,734.9 1111.3,762.2 M1234.2,752.6Q1251.3,777.2 1253.1,788.4 M1292.1,704.9Q1294.8,755.0 1295.3,796.1 M1098.5,712.8Q1084.6,742.2 1077.6,758.5 M1143.3,789.4Q1114.6,832.5 1082.4,871.2 M1216.7,677.7Q1221.3,704.3 1217.6,719.0 M1140.4,735.8Q1117.1,768.6 1078.8,786.4 M1174.0,653.2Q1132.8,662.0 1084.3,687.0 M1220.1,808.8Q1215.3,838.6 1222.3,873.5 M1225.6,759.8Q1244.8,781.5 1275.0,811.0 M1105.3,769.9Q1102.7,822.2 1082.7,868.1 M1205.5,751.2Q1212.6,788.0 1200.1,831.6 M1164.8,809.9Q1112.8,834.4 1079.3,858.9 M1192.4,755.8Q1180.9,781.9 1186.1,819.4 M1189.6,697.8Q1200.9,743.8 1215.8,806.7 M1241.0,677.6Q1239.3,708.6 1236.4,729.7 M1159.5,672.7Q1147.8,696.5 1138.9,735.3 M1097.3,702.0Q1071.7,755.0 1051.1,788.6 M1138.7,724.8Q1158.5,755.8 1167.8,768.9 M1278.2,771.4Q1246.2,799.7 1203.6,845.3 M1146.8,708.0Q1117.5,733.7 1098.8,747.1 M1202.1,711.4Q1215.3,728.1 1220.9,747.6 M1219.1,709.5Q1237.9,739.9 1253.8,781.5 M1125.9,751.4Q1154.2,783.8 1174.6,799.5 M1098.3,788.5Q1116.8,831.1 1125.3,870.1 M1232.4,750.9Q1254.2,785.1 1270.1,815.5 M1126.1,807.2Q1158.9,833.3 1176.3,866.4 M1251.0,761.2Q1263.7,791.6 1266.1,809.9 M1217.3,785.4Q1189.1,793.1 1161.2,813.6" stroke="#c6d2e6" stroke-width="1.5" fill="none" opacity="0.8"/>
</g></g>
<text x="874.0" y="821.6" font-size="15.6" text-anchor="middle" fill="#1a1a1a" textLength="28.0" lengthAdjust="spacingAndGlyphs">PEM</text>
<text x="997.2" y="821.6" font-size="15.6" text-anchor="middle" fill="#1a1a1a" textLength="88.0" lengthAdjust="spacingAndGlyphs">Cross-section</text>
<text x="997.0" y="840.0" font-size="15.6" text-anchor="middle" fill="#1a1a1a" textLength="119.0" lengthAdjust="spacingAndGlyphs">of PEM Membrane</text>
<text x="1187.3" y="821.6" font-size="15.6" text-anchor="middle" fill="#1a1a1a" textLength="39.0" lengthAdjust="spacingAndGlyphs">ePTFE</text>
</svg>
</body></html>
